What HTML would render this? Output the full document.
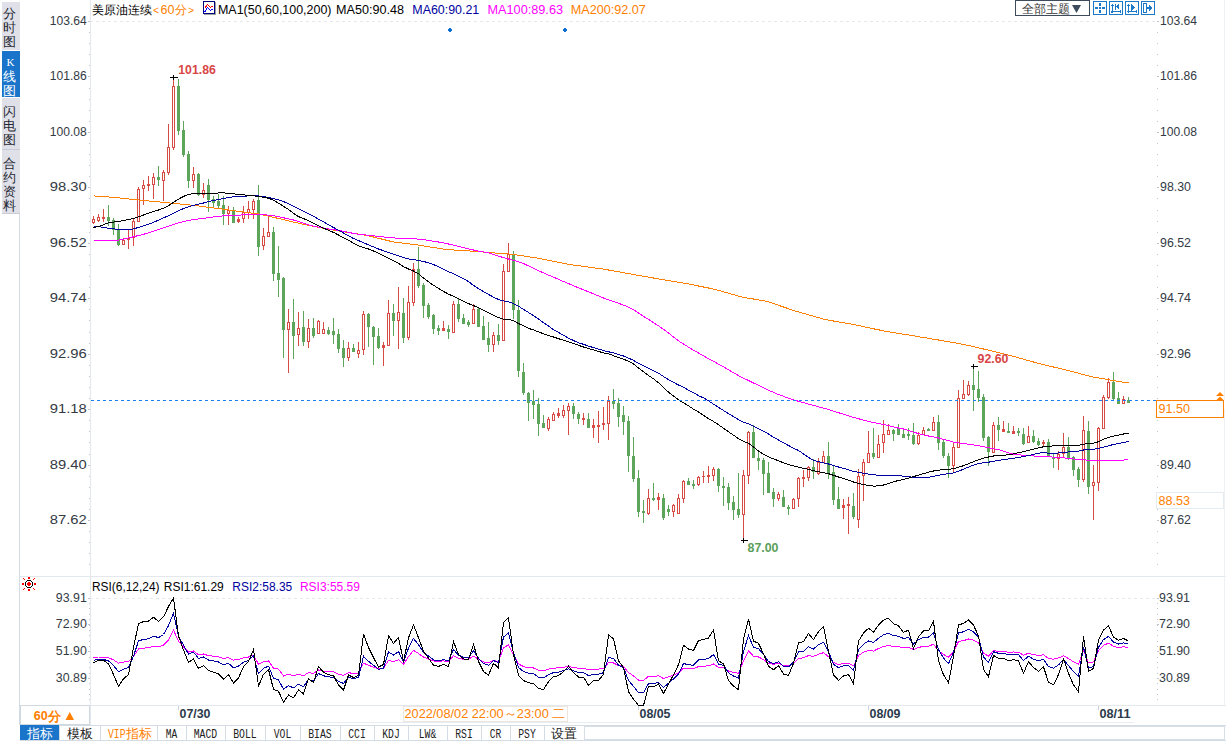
<!DOCTYPE html><html><head><meta charset="utf-8"><style>html,body{margin:0;padding:0;background:#fff;width:1226px;height:741px;overflow:hidden}svg{display:block}text{}</style></head><body>
<svg width="1226" height="741" viewBox="0 0 1226 741">
<rect width="1226" height="741" fill="#fff"/>
<g shape-rendering="crispEdges">
<rect x="2" y="2" width="18" height="48" fill="#dfe0e8"/>
<rect x="2" y="51" width="18" height="46" fill="#1a74c9"/>
<rect x="2" y="98" width="18" height="51" fill="#dfe0e8"/>
<rect x="2" y="150" width="18" height="63" fill="#dfe0e8"/>
<rect x="2" y="149" width="18" height="1" fill="#c9ccd6"/>
<rect x="2" y="213" width="18" height="1" fill="#c9ccd6"/>
<rect x="19" y="214" width="1" height="511" fill="#d3dbe4"/>
</g>
<text x="9.5" y="18.3" fill="#1f2833" style="font-family:'Liberation Sans', sans-serif;font-size:12.8px;" text-anchor="middle">分</text><text x="9.5" y="32.1" fill="#1f2833" style="font-family:'Liberation Sans', sans-serif;font-size:12.8px;" text-anchor="middle">时</text><text x="9.5" y="45.9" fill="#1f2833" style="font-family:'Liberation Sans', sans-serif;font-size:12.8px;" text-anchor="middle">图</text>
<text x="10.5" y="65.5" fill="#fff" style="font-family:'Liberation Serif', serif;font-size:11px;" text-anchor="middle">K</text>
<text x="9.5" y="81.0" fill="#fff" style="font-family:'Liberation Sans', sans-serif;font-size:12.8px;" text-anchor="middle">线</text><text x="9.5" y="94.8" fill="#fff" style="font-family:'Liberation Sans', sans-serif;font-size:12.8px;" text-anchor="middle">图</text>
<text x="9.5" y="116.3" fill="#1f2833" style="font-family:'Liberation Sans', sans-serif;font-size:12.8px;" text-anchor="middle">闪</text><text x="9.5" y="130.1" fill="#1f2833" style="font-family:'Liberation Sans', sans-serif;font-size:12.8px;" text-anchor="middle">电</text><text x="9.5" y="143.9" fill="#1f2833" style="font-family:'Liberation Sans', sans-serif;font-size:12.8px;" text-anchor="middle">图</text>
<text x="9.5" y="168.3" fill="#1f2833" style="font-family:'Liberation Sans', sans-serif;font-size:12.8px;" text-anchor="middle">合</text><text x="9.5" y="182.1" fill="#1f2833" style="font-family:'Liberation Sans', sans-serif;font-size:12.8px;" text-anchor="middle">约</text><text x="9.5" y="195.9" fill="#1f2833" style="font-family:'Liberation Sans', sans-serif;font-size:12.8px;" text-anchor="middle">资</text><text x="9.5" y="209.7" fill="#1f2833" style="font-family:'Liberation Sans', sans-serif;font-size:12.8px;" text-anchor="middle">料</text>
<g shape-rendering="crispEdges">
<rect x="90" y="0" width="1" height="725" fill="#e2e8ee"/>
<rect x="20" y="576" width="1206" height="1" fill="#e2e8ee"/>
<rect x="20" y="705" width="1206" height="1" fill="#e2e8ee"/>
<rect x="317" y="722" width="817" height="1" fill="#e8edf2"/>
<rect x="20" y="725" width="1206" height="1" fill="#d3dbe4"/>
<rect x="20" y="740" width="1206" height="1" fill="#d3dbe4"/>
<rect x="1224" y="0" width="1" height="705" fill="#eef2f5"/>
<rect x="90" y="21" width="3" height="1" fill="#e6e9ed"/>
<rect x="96" y="21" width="3" height="1" fill="#e6e9ed"/>
<rect x="102" y="21" width="3" height="1" fill="#e6e9ed"/>
<rect x="108" y="21" width="3" height="1" fill="#e6e9ed"/>
<rect x="114" y="21" width="3" height="1" fill="#e6e9ed"/>
<rect x="120" y="21" width="3" height="1" fill="#e6e9ed"/>
<rect x="126" y="21" width="3" height="1" fill="#e6e9ed"/>
<rect x="132" y="21" width="3" height="1" fill="#e6e9ed"/>
<rect x="138" y="21" width="3" height="1" fill="#e6e9ed"/>
<rect x="144" y="21" width="3" height="1" fill="#e6e9ed"/>
<rect x="150" y="21" width="3" height="1" fill="#e6e9ed"/>
<rect x="156" y="21" width="3" height="1" fill="#e6e9ed"/>
<rect x="162" y="21" width="3" height="1" fill="#e6e9ed"/>
<rect x="168" y="21" width="3" height="1" fill="#e6e9ed"/>
<rect x="174" y="21" width="3" height="1" fill="#e6e9ed"/>
<rect x="180" y="21" width="3" height="1" fill="#e6e9ed"/>
<rect x="186" y="21" width="3" height="1" fill="#e6e9ed"/>
<rect x="192" y="21" width="3" height="1" fill="#e6e9ed"/>
<rect x="198" y="21" width="3" height="1" fill="#e6e9ed"/>
<rect x="204" y="21" width="3" height="1" fill="#e6e9ed"/>
<rect x="210" y="21" width="3" height="1" fill="#e6e9ed"/>
<rect x="216" y="21" width="3" height="1" fill="#e6e9ed"/>
<rect x="222" y="21" width="3" height="1" fill="#e6e9ed"/>
<rect x="228" y="21" width="3" height="1" fill="#e6e9ed"/>
<rect x="234" y="21" width="3" height="1" fill="#e6e9ed"/>
<rect x="240" y="21" width="3" height="1" fill="#e6e9ed"/>
<rect x="246" y="21" width="3" height="1" fill="#e6e9ed"/>
<rect x="252" y="21" width="3" height="1" fill="#e6e9ed"/>
<rect x="258" y="21" width="3" height="1" fill="#e6e9ed"/>
<rect x="264" y="21" width="3" height="1" fill="#e6e9ed"/>
<rect x="270" y="21" width="3" height="1" fill="#e6e9ed"/>
<rect x="276" y="21" width="3" height="1" fill="#e6e9ed"/>
<rect x="282" y="21" width="3" height="1" fill="#e6e9ed"/>
<rect x="288" y="21" width="3" height="1" fill="#e6e9ed"/>
<rect x="294" y="21" width="3" height="1" fill="#e6e9ed"/>
<rect x="300" y="21" width="3" height="1" fill="#e6e9ed"/>
<rect x="306" y="21" width="3" height="1" fill="#e6e9ed"/>
<rect x="312" y="21" width="3" height="1" fill="#e6e9ed"/>
<rect x="318" y="21" width="3" height="1" fill="#e6e9ed"/>
<rect x="324" y="21" width="3" height="1" fill="#e6e9ed"/>
<rect x="330" y="21" width="3" height="1" fill="#e6e9ed"/>
<rect x="336" y="21" width="3" height="1" fill="#e6e9ed"/>
<rect x="342" y="21" width="3" height="1" fill="#e6e9ed"/>
<rect x="348" y="21" width="3" height="1" fill="#e6e9ed"/>
<rect x="354" y="21" width="3" height="1" fill="#e6e9ed"/>
<rect x="360" y="21" width="3" height="1" fill="#e6e9ed"/>
<rect x="366" y="21" width="3" height="1" fill="#e6e9ed"/>
<rect x="372" y="21" width="3" height="1" fill="#e6e9ed"/>
<rect x="378" y="21" width="3" height="1" fill="#e6e9ed"/>
<rect x="384" y="21" width="3" height="1" fill="#e6e9ed"/>
<rect x="390" y="21" width="3" height="1" fill="#e6e9ed"/>
<rect x="396" y="21" width="3" height="1" fill="#e6e9ed"/>
<rect x="402" y="21" width="3" height="1" fill="#e6e9ed"/>
<rect x="408" y="21" width="3" height="1" fill="#e6e9ed"/>
<rect x="414" y="21" width="3" height="1" fill="#e6e9ed"/>
<rect x="420" y="21" width="3" height="1" fill="#e6e9ed"/>
<rect x="426" y="21" width="3" height="1" fill="#e6e9ed"/>
<rect x="432" y="21" width="3" height="1" fill="#e6e9ed"/>
<rect x="438" y="21" width="3" height="1" fill="#e6e9ed"/>
<rect x="444" y="21" width="3" height="1" fill="#e6e9ed"/>
<rect x="450" y="21" width="3" height="1" fill="#e6e9ed"/>
<rect x="456" y="21" width="3" height="1" fill="#e6e9ed"/>
<rect x="462" y="21" width="3" height="1" fill="#e6e9ed"/>
<rect x="468" y="21" width="3" height="1" fill="#e6e9ed"/>
<rect x="474" y="21" width="3" height="1" fill="#e6e9ed"/>
<rect x="480" y="21" width="3" height="1" fill="#e6e9ed"/>
<rect x="486" y="21" width="3" height="1" fill="#e6e9ed"/>
<rect x="492" y="21" width="3" height="1" fill="#e6e9ed"/>
<rect x="498" y="21" width="3" height="1" fill="#e6e9ed"/>
<rect x="504" y="21" width="3" height="1" fill="#e6e9ed"/>
<rect x="510" y="21" width="3" height="1" fill="#e6e9ed"/>
<rect x="516" y="21" width="3" height="1" fill="#e6e9ed"/>
<rect x="522" y="21" width="3" height="1" fill="#e6e9ed"/>
<rect x="528" y="21" width="3" height="1" fill="#e6e9ed"/>
<rect x="534" y="21" width="3" height="1" fill="#e6e9ed"/>
<rect x="540" y="21" width="3" height="1" fill="#e6e9ed"/>
<rect x="546" y="21" width="3" height="1" fill="#e6e9ed"/>
<rect x="552" y="21" width="3" height="1" fill="#e6e9ed"/>
<rect x="558" y="21" width="3" height="1" fill="#e6e9ed"/>
<rect x="564" y="21" width="3" height="1" fill="#e6e9ed"/>
<rect x="570" y="21" width="3" height="1" fill="#e6e9ed"/>
<rect x="576" y="21" width="3" height="1" fill="#e6e9ed"/>
<rect x="582" y="21" width="3" height="1" fill="#e6e9ed"/>
<rect x="588" y="21" width="3" height="1" fill="#e6e9ed"/>
<rect x="594" y="21" width="3" height="1" fill="#e6e9ed"/>
<rect x="600" y="21" width="3" height="1" fill="#e6e9ed"/>
<rect x="606" y="21" width="3" height="1" fill="#e6e9ed"/>
<rect x="612" y="21" width="3" height="1" fill="#e6e9ed"/>
<rect x="618" y="21" width="3" height="1" fill="#e6e9ed"/>
<rect x="624" y="21" width="3" height="1" fill="#e6e9ed"/>
<rect x="630" y="21" width="3" height="1" fill="#e6e9ed"/>
<rect x="636" y="21" width="3" height="1" fill="#e6e9ed"/>
<rect x="642" y="21" width="3" height="1" fill="#e6e9ed"/>
<rect x="648" y="21" width="3" height="1" fill="#e6e9ed"/>
<rect x="654" y="21" width="3" height="1" fill="#e6e9ed"/>
<rect x="660" y="21" width="3" height="1" fill="#e6e9ed"/>
<rect x="666" y="21" width="3" height="1" fill="#e6e9ed"/>
<rect x="672" y="21" width="3" height="1" fill="#e6e9ed"/>
<rect x="678" y="21" width="3" height="1" fill="#e6e9ed"/>
<rect x="684" y="21" width="3" height="1" fill="#e6e9ed"/>
<rect x="690" y="21" width="3" height="1" fill="#e6e9ed"/>
<rect x="696" y="21" width="3" height="1" fill="#e6e9ed"/>
<rect x="702" y="21" width="3" height="1" fill="#e6e9ed"/>
<rect x="708" y="21" width="3" height="1" fill="#e6e9ed"/>
<rect x="714" y="21" width="3" height="1" fill="#e6e9ed"/>
<rect x="720" y="21" width="3" height="1" fill="#e6e9ed"/>
<rect x="726" y="21" width="3" height="1" fill="#e6e9ed"/>
<rect x="732" y="21" width="3" height="1" fill="#e6e9ed"/>
<rect x="738" y="21" width="3" height="1" fill="#e6e9ed"/>
<rect x="744" y="21" width="3" height="1" fill="#e6e9ed"/>
<rect x="750" y="21" width="3" height="1" fill="#e6e9ed"/>
<rect x="756" y="21" width="3" height="1" fill="#e6e9ed"/>
<rect x="762" y="21" width="3" height="1" fill="#e6e9ed"/>
<rect x="768" y="21" width="3" height="1" fill="#e6e9ed"/>
<rect x="774" y="21" width="3" height="1" fill="#e6e9ed"/>
<rect x="780" y="21" width="3" height="1" fill="#e6e9ed"/>
<rect x="786" y="21" width="3" height="1" fill="#e6e9ed"/>
<rect x="792" y="21" width="3" height="1" fill="#e6e9ed"/>
<rect x="798" y="21" width="3" height="1" fill="#e6e9ed"/>
<rect x="804" y="21" width="3" height="1" fill="#e6e9ed"/>
<rect x="810" y="21" width="3" height="1" fill="#e6e9ed"/>
<rect x="816" y="21" width="3" height="1" fill="#e6e9ed"/>
<rect x="822" y="21" width="3" height="1" fill="#e6e9ed"/>
<rect x="828" y="21" width="3" height="1" fill="#e6e9ed"/>
<rect x="834" y="21" width="3" height="1" fill="#e6e9ed"/>
<rect x="840" y="21" width="3" height="1" fill="#e6e9ed"/>
<rect x="846" y="21" width="3" height="1" fill="#e6e9ed"/>
<rect x="852" y="21" width="3" height="1" fill="#e6e9ed"/>
<rect x="858" y="21" width="3" height="1" fill="#e6e9ed"/>
<rect x="864" y="21" width="3" height="1" fill="#e6e9ed"/>
<rect x="870" y="21" width="3" height="1" fill="#e6e9ed"/>
<rect x="876" y="21" width="3" height="1" fill="#e6e9ed"/>
<rect x="882" y="21" width="3" height="1" fill="#e6e9ed"/>
<rect x="888" y="21" width="3" height="1" fill="#e6e9ed"/>
<rect x="894" y="21" width="3" height="1" fill="#e6e9ed"/>
<rect x="900" y="21" width="3" height="1" fill="#e6e9ed"/>
<rect x="906" y="21" width="3" height="1" fill="#e6e9ed"/>
<rect x="912" y="21" width="3" height="1" fill="#e6e9ed"/>
<rect x="918" y="21" width="3" height="1" fill="#e6e9ed"/>
<rect x="924" y="21" width="3" height="1" fill="#e6e9ed"/>
<rect x="930" y="21" width="3" height="1" fill="#e6e9ed"/>
<rect x="936" y="21" width="3" height="1" fill="#e6e9ed"/>
<rect x="942" y="21" width="3" height="1" fill="#e6e9ed"/>
<rect x="948" y="21" width="3" height="1" fill="#e6e9ed"/>
<rect x="954" y="21" width="3" height="1" fill="#e6e9ed"/>
<rect x="960" y="21" width="3" height="1" fill="#e6e9ed"/>
<rect x="966" y="21" width="3" height="1" fill="#e6e9ed"/>
<rect x="972" y="21" width="3" height="1" fill="#e6e9ed"/>
<rect x="978" y="21" width="3" height="1" fill="#e6e9ed"/>
<rect x="984" y="21" width="3" height="1" fill="#e6e9ed"/>
<rect x="990" y="21" width="3" height="1" fill="#e6e9ed"/>
<rect x="996" y="21" width="3" height="1" fill="#e6e9ed"/>
<rect x="1002" y="21" width="3" height="1" fill="#e6e9ed"/>
<rect x="1008" y="21" width="3" height="1" fill="#e6e9ed"/>
<rect x="1014" y="21" width="3" height="1" fill="#e6e9ed"/>
<rect x="1020" y="21" width="3" height="1" fill="#e6e9ed"/>
<rect x="1026" y="21" width="3" height="1" fill="#e6e9ed"/>
<rect x="1032" y="21" width="3" height="1" fill="#e6e9ed"/>
<rect x="1038" y="21" width="3" height="1" fill="#e6e9ed"/>
<rect x="1044" y="21" width="3" height="1" fill="#e6e9ed"/>
<rect x="1050" y="21" width="3" height="1" fill="#e6e9ed"/>
<rect x="1056" y="21" width="3" height="1" fill="#e6e9ed"/>
<rect x="1062" y="21" width="3" height="1" fill="#e6e9ed"/>
<rect x="1068" y="21" width="3" height="1" fill="#e6e9ed"/>
<rect x="1074" y="21" width="3" height="1" fill="#e6e9ed"/>
<rect x="1080" y="21" width="3" height="1" fill="#e6e9ed"/>
<rect x="1086" y="21" width="3" height="1" fill="#e6e9ed"/>
<rect x="1092" y="21" width="3" height="1" fill="#e6e9ed"/>
<rect x="1098" y="21" width="3" height="1" fill="#e6e9ed"/>
<rect x="1104" y="21" width="3" height="1" fill="#e6e9ed"/>
<rect x="1110" y="21" width="3" height="1" fill="#e6e9ed"/>
<rect x="1116" y="21" width="3" height="1" fill="#e6e9ed"/>
<rect x="1122" y="21" width="3" height="1" fill="#e6e9ed"/>
<rect x="1128" y="21" width="3" height="1" fill="#e6e9ed"/>
<rect x="1134" y="21" width="3" height="1" fill="#e6e9ed"/>
<rect x="1140" y="21" width="3" height="1" fill="#e6e9ed"/>
<rect x="1146" y="21" width="3" height="1" fill="#e6e9ed"/>
<rect x="1152" y="21" width="3" height="1" fill="#e6e9ed"/>
<rect x="90" y="598" width="3" height="1" fill="#e6e9ed"/>
<rect x="96" y="598" width="3" height="1" fill="#e6e9ed"/>
<rect x="102" y="598" width="3" height="1" fill="#e6e9ed"/>
<rect x="108" y="598" width="3" height="1" fill="#e6e9ed"/>
<rect x="114" y="598" width="3" height="1" fill="#e6e9ed"/>
<rect x="120" y="598" width="3" height="1" fill="#e6e9ed"/>
<rect x="126" y="598" width="3" height="1" fill="#e6e9ed"/>
<rect x="132" y="598" width="3" height="1" fill="#e6e9ed"/>
<rect x="138" y="598" width="3" height="1" fill="#e6e9ed"/>
<rect x="144" y="598" width="3" height="1" fill="#e6e9ed"/>
<rect x="150" y="598" width="3" height="1" fill="#e6e9ed"/>
<rect x="156" y="598" width="3" height="1" fill="#e6e9ed"/>
<rect x="162" y="598" width="3" height="1" fill="#e6e9ed"/>
<rect x="168" y="598" width="3" height="1" fill="#e6e9ed"/>
<rect x="174" y="598" width="3" height="1" fill="#e6e9ed"/>
<rect x="180" y="598" width="3" height="1" fill="#e6e9ed"/>
<rect x="186" y="598" width="3" height="1" fill="#e6e9ed"/>
<rect x="192" y="598" width="3" height="1" fill="#e6e9ed"/>
<rect x="198" y="598" width="3" height="1" fill="#e6e9ed"/>
<rect x="204" y="598" width="3" height="1" fill="#e6e9ed"/>
<rect x="210" y="598" width="3" height="1" fill="#e6e9ed"/>
<rect x="216" y="598" width="3" height="1" fill="#e6e9ed"/>
<rect x="222" y="598" width="3" height="1" fill="#e6e9ed"/>
<rect x="228" y="598" width="3" height="1" fill="#e6e9ed"/>
<rect x="234" y="598" width="3" height="1" fill="#e6e9ed"/>
<rect x="240" y="598" width="3" height="1" fill="#e6e9ed"/>
<rect x="246" y="598" width="3" height="1" fill="#e6e9ed"/>
<rect x="252" y="598" width="3" height="1" fill="#e6e9ed"/>
<rect x="258" y="598" width="3" height="1" fill="#e6e9ed"/>
<rect x="264" y="598" width="3" height="1" fill="#e6e9ed"/>
<rect x="270" y="598" width="3" height="1" fill="#e6e9ed"/>
<rect x="276" y="598" width="3" height="1" fill="#e6e9ed"/>
<rect x="282" y="598" width="3" height="1" fill="#e6e9ed"/>
<rect x="288" y="598" width="3" height="1" fill="#e6e9ed"/>
<rect x="294" y="598" width="3" height="1" fill="#e6e9ed"/>
<rect x="300" y="598" width="3" height="1" fill="#e6e9ed"/>
<rect x="306" y="598" width="3" height="1" fill="#e6e9ed"/>
<rect x="312" y="598" width="3" height="1" fill="#e6e9ed"/>
<rect x="318" y="598" width="3" height="1" fill="#e6e9ed"/>
<rect x="324" y="598" width="3" height="1" fill="#e6e9ed"/>
<rect x="330" y="598" width="3" height="1" fill="#e6e9ed"/>
<rect x="336" y="598" width="3" height="1" fill="#e6e9ed"/>
<rect x="342" y="598" width="3" height="1" fill="#e6e9ed"/>
<rect x="348" y="598" width="3" height="1" fill="#e6e9ed"/>
<rect x="354" y="598" width="3" height="1" fill="#e6e9ed"/>
<rect x="360" y="598" width="3" height="1" fill="#e6e9ed"/>
<rect x="366" y="598" width="3" height="1" fill="#e6e9ed"/>
<rect x="372" y="598" width="3" height="1" fill="#e6e9ed"/>
<rect x="378" y="598" width="3" height="1" fill="#e6e9ed"/>
<rect x="384" y="598" width="3" height="1" fill="#e6e9ed"/>
<rect x="390" y="598" width="3" height="1" fill="#e6e9ed"/>
<rect x="396" y="598" width="3" height="1" fill="#e6e9ed"/>
<rect x="402" y="598" width="3" height="1" fill="#e6e9ed"/>
<rect x="408" y="598" width="3" height="1" fill="#e6e9ed"/>
<rect x="414" y="598" width="3" height="1" fill="#e6e9ed"/>
<rect x="420" y="598" width="3" height="1" fill="#e6e9ed"/>
<rect x="426" y="598" width="3" height="1" fill="#e6e9ed"/>
<rect x="432" y="598" width="3" height="1" fill="#e6e9ed"/>
<rect x="438" y="598" width="3" height="1" fill="#e6e9ed"/>
<rect x="444" y="598" width="3" height="1" fill="#e6e9ed"/>
<rect x="450" y="598" width="3" height="1" fill="#e6e9ed"/>
<rect x="456" y="598" width="3" height="1" fill="#e6e9ed"/>
<rect x="462" y="598" width="3" height="1" fill="#e6e9ed"/>
<rect x="468" y="598" width="3" height="1" fill="#e6e9ed"/>
<rect x="474" y="598" width="3" height="1" fill="#e6e9ed"/>
<rect x="480" y="598" width="3" height="1" fill="#e6e9ed"/>
<rect x="486" y="598" width="3" height="1" fill="#e6e9ed"/>
<rect x="492" y="598" width="3" height="1" fill="#e6e9ed"/>
<rect x="498" y="598" width="3" height="1" fill="#e6e9ed"/>
<rect x="504" y="598" width="3" height="1" fill="#e6e9ed"/>
<rect x="510" y="598" width="3" height="1" fill="#e6e9ed"/>
<rect x="516" y="598" width="3" height="1" fill="#e6e9ed"/>
<rect x="522" y="598" width="3" height="1" fill="#e6e9ed"/>
<rect x="528" y="598" width="3" height="1" fill="#e6e9ed"/>
<rect x="534" y="598" width="3" height="1" fill="#e6e9ed"/>
<rect x="540" y="598" width="3" height="1" fill="#e6e9ed"/>
<rect x="546" y="598" width="3" height="1" fill="#e6e9ed"/>
<rect x="552" y="598" width="3" height="1" fill="#e6e9ed"/>
<rect x="558" y="598" width="3" height="1" fill="#e6e9ed"/>
<rect x="564" y="598" width="3" height="1" fill="#e6e9ed"/>
<rect x="570" y="598" width="3" height="1" fill="#e6e9ed"/>
<rect x="576" y="598" width="3" height="1" fill="#e6e9ed"/>
<rect x="582" y="598" width="3" height="1" fill="#e6e9ed"/>
<rect x="588" y="598" width="3" height="1" fill="#e6e9ed"/>
<rect x="594" y="598" width="3" height="1" fill="#e6e9ed"/>
<rect x="600" y="598" width="3" height="1" fill="#e6e9ed"/>
<rect x="606" y="598" width="3" height="1" fill="#e6e9ed"/>
<rect x="612" y="598" width="3" height="1" fill="#e6e9ed"/>
<rect x="618" y="598" width="3" height="1" fill="#e6e9ed"/>
<rect x="624" y="598" width="3" height="1" fill="#e6e9ed"/>
<rect x="630" y="598" width="3" height="1" fill="#e6e9ed"/>
<rect x="636" y="598" width="3" height="1" fill="#e6e9ed"/>
<rect x="642" y="598" width="3" height="1" fill="#e6e9ed"/>
<rect x="648" y="598" width="3" height="1" fill="#e6e9ed"/>
<rect x="654" y="598" width="3" height="1" fill="#e6e9ed"/>
<rect x="660" y="598" width="3" height="1" fill="#e6e9ed"/>
<rect x="666" y="598" width="3" height="1" fill="#e6e9ed"/>
<rect x="672" y="598" width="3" height="1" fill="#e6e9ed"/>
<rect x="678" y="598" width="3" height="1" fill="#e6e9ed"/>
<rect x="684" y="598" width="3" height="1" fill="#e6e9ed"/>
<rect x="690" y="598" width="3" height="1" fill="#e6e9ed"/>
<rect x="696" y="598" width="3" height="1" fill="#e6e9ed"/>
<rect x="702" y="598" width="3" height="1" fill="#e6e9ed"/>
<rect x="708" y="598" width="3" height="1" fill="#e6e9ed"/>
<rect x="714" y="598" width="3" height="1" fill="#e6e9ed"/>
<rect x="720" y="598" width="3" height="1" fill="#e6e9ed"/>
<rect x="726" y="598" width="3" height="1" fill="#e6e9ed"/>
<rect x="732" y="598" width="3" height="1" fill="#e6e9ed"/>
<rect x="738" y="598" width="3" height="1" fill="#e6e9ed"/>
<rect x="744" y="598" width="3" height="1" fill="#e6e9ed"/>
<rect x="750" y="598" width="3" height="1" fill="#e6e9ed"/>
<rect x="756" y="598" width="3" height="1" fill="#e6e9ed"/>
<rect x="762" y="598" width="3" height="1" fill="#e6e9ed"/>
<rect x="768" y="598" width="3" height="1" fill="#e6e9ed"/>
<rect x="774" y="598" width="3" height="1" fill="#e6e9ed"/>
<rect x="780" y="598" width="3" height="1" fill="#e6e9ed"/>
<rect x="786" y="598" width="3" height="1" fill="#e6e9ed"/>
<rect x="792" y="598" width="3" height="1" fill="#e6e9ed"/>
<rect x="798" y="598" width="3" height="1" fill="#e6e9ed"/>
<rect x="804" y="598" width="3" height="1" fill="#e6e9ed"/>
<rect x="810" y="598" width="3" height="1" fill="#e6e9ed"/>
<rect x="816" y="598" width="3" height="1" fill="#e6e9ed"/>
<rect x="822" y="598" width="3" height="1" fill="#e6e9ed"/>
<rect x="828" y="598" width="3" height="1" fill="#e6e9ed"/>
<rect x="834" y="598" width="3" height="1" fill="#e6e9ed"/>
<rect x="840" y="598" width="3" height="1" fill="#e6e9ed"/>
<rect x="846" y="598" width="3" height="1" fill="#e6e9ed"/>
<rect x="852" y="598" width="3" height="1" fill="#e6e9ed"/>
<rect x="858" y="598" width="3" height="1" fill="#e6e9ed"/>
<rect x="864" y="598" width="3" height="1" fill="#e6e9ed"/>
<rect x="870" y="598" width="3" height="1" fill="#e6e9ed"/>
<rect x="876" y="598" width="3" height="1" fill="#e6e9ed"/>
<rect x="882" y="598" width="3" height="1" fill="#e6e9ed"/>
<rect x="888" y="598" width="3" height="1" fill="#e6e9ed"/>
<rect x="894" y="598" width="3" height="1" fill="#e6e9ed"/>
<rect x="900" y="598" width="3" height="1" fill="#e6e9ed"/>
<rect x="906" y="598" width="3" height="1" fill="#e6e9ed"/>
<rect x="912" y="598" width="3" height="1" fill="#e6e9ed"/>
<rect x="918" y="598" width="3" height="1" fill="#e6e9ed"/>
<rect x="924" y="598" width="3" height="1" fill="#e6e9ed"/>
<rect x="930" y="598" width="3" height="1" fill="#e6e9ed"/>
<rect x="936" y="598" width="3" height="1" fill="#e6e9ed"/>
<rect x="942" y="598" width="3" height="1" fill="#e6e9ed"/>
<rect x="948" y="598" width="3" height="1" fill="#e6e9ed"/>
<rect x="954" y="598" width="3" height="1" fill="#e6e9ed"/>
<rect x="960" y="598" width="3" height="1" fill="#e6e9ed"/>
<rect x="966" y="598" width="3" height="1" fill="#e6e9ed"/>
<rect x="972" y="598" width="3" height="1" fill="#e6e9ed"/>
<rect x="978" y="598" width="3" height="1" fill="#e6e9ed"/>
<rect x="984" y="598" width="3" height="1" fill="#e6e9ed"/>
<rect x="990" y="598" width="3" height="1" fill="#e6e9ed"/>
<rect x="996" y="598" width="3" height="1" fill="#e6e9ed"/>
<rect x="1002" y="598" width="3" height="1" fill="#e6e9ed"/>
<rect x="1008" y="598" width="3" height="1" fill="#e6e9ed"/>
<rect x="1014" y="598" width="3" height="1" fill="#e6e9ed"/>
<rect x="1020" y="598" width="3" height="1" fill="#e6e9ed"/>
<rect x="1026" y="598" width="3" height="1" fill="#e6e9ed"/>
<rect x="1032" y="598" width="3" height="1" fill="#e6e9ed"/>
<rect x="1038" y="598" width="3" height="1" fill="#e6e9ed"/>
<rect x="1044" y="598" width="3" height="1" fill="#e6e9ed"/>
<rect x="1050" y="598" width="3" height="1" fill="#e6e9ed"/>
<rect x="1056" y="598" width="3" height="1" fill="#e6e9ed"/>
<rect x="1062" y="598" width="3" height="1" fill="#e6e9ed"/>
<rect x="1068" y="598" width="3" height="1" fill="#e6e9ed"/>
<rect x="1074" y="598" width="3" height="1" fill="#e6e9ed"/>
<rect x="1080" y="598" width="3" height="1" fill="#e6e9ed"/>
<rect x="1086" y="598" width="3" height="1" fill="#e6e9ed"/>
<rect x="1092" y="598" width="3" height="1" fill="#e6e9ed"/>
<rect x="1098" y="598" width="3" height="1" fill="#e6e9ed"/>
<rect x="1104" y="598" width="3" height="1" fill="#e6e9ed"/>
<rect x="1110" y="598" width="3" height="1" fill="#e6e9ed"/>
<rect x="1116" y="598" width="3" height="1" fill="#e6e9ed"/>
<rect x="1122" y="598" width="3" height="1" fill="#e6e9ed"/>
<rect x="1128" y="598" width="3" height="1" fill="#e6e9ed"/>
<rect x="1134" y="598" width="3" height="1" fill="#e6e9ed"/>
<rect x="1140" y="598" width="3" height="1" fill="#e6e9ed"/>
<rect x="1146" y="598" width="3" height="1" fill="#e6e9ed"/>
<rect x="1152" y="598" width="3" height="1" fill="#e6e9ed"/>
</g>
<g shape-rendering="crispEdges" fill="#bcc6d0">
<rect x="88" y="21" width="2" height="1"/>
<rect x="1157" y="21" width="2" height="1"/>
<rect x="88" y="76" width="2" height="1"/>
<rect x="1157" y="76" width="2" height="1"/>
<rect x="88" y="132" width="2" height="1"/>
<rect x="1157" y="132" width="2" height="1"/>
<rect x="88" y="187" width="2" height="1"/>
<rect x="1157" y="187" width="2" height="1"/>
<rect x="88" y="243" width="2" height="1"/>
<rect x="1157" y="243" width="2" height="1"/>
<rect x="88" y="298" width="2" height="1"/>
<rect x="1157" y="298" width="2" height="1"/>
<rect x="88" y="354" width="2" height="1"/>
<rect x="1157" y="354" width="2" height="1"/>
<rect x="88" y="409" width="2" height="1"/>
<rect x="1157" y="409" width="2" height="1"/>
<rect x="88" y="465" width="2" height="1"/>
<rect x="1157" y="465" width="2" height="1"/>
<rect x="88" y="520" width="2" height="1"/>
<rect x="1157" y="520" width="2" height="1"/>
<rect x="89" y="32" width="1" height="1"/>
<rect x="1157" y="32" width="1" height="1"/>
<rect x="89" y="43" width="1" height="1"/>
<rect x="1157" y="43" width="1" height="1"/>
<rect x="89" y="54" width="1" height="1"/>
<rect x="1157" y="54" width="1" height="1"/>
<rect x="89" y="65" width="1" height="1"/>
<rect x="1157" y="65" width="1" height="1"/>
<rect x="89" y="88" width="1" height="1"/>
<rect x="1157" y="88" width="1" height="1"/>
<rect x="89" y="99" width="1" height="1"/>
<rect x="1157" y="99" width="1" height="1"/>
<rect x="89" y="110" width="1" height="1"/>
<rect x="1157" y="110" width="1" height="1"/>
<rect x="89" y="121" width="1" height="1"/>
<rect x="1157" y="121" width="1" height="1"/>
<rect x="89" y="143" width="1" height="1"/>
<rect x="1157" y="143" width="1" height="1"/>
<rect x="89" y="154" width="1" height="1"/>
<rect x="1157" y="154" width="1" height="1"/>
<rect x="89" y="165" width="1" height="1"/>
<rect x="1157" y="165" width="1" height="1"/>
<rect x="89" y="176" width="1" height="1"/>
<rect x="1157" y="176" width="1" height="1"/>
<rect x="89" y="198" width="1" height="1"/>
<rect x="1157" y="198" width="1" height="1"/>
<rect x="89" y="210" width="1" height="1"/>
<rect x="1157" y="210" width="1" height="1"/>
<rect x="89" y="221" width="1" height="1"/>
<rect x="1157" y="221" width="1" height="1"/>
<rect x="89" y="232" width="1" height="1"/>
<rect x="1157" y="232" width="1" height="1"/>
<rect x="89" y="254" width="1" height="1"/>
<rect x="1157" y="254" width="1" height="1"/>
<rect x="89" y="265" width="1" height="1"/>
<rect x="1157" y="265" width="1" height="1"/>
<rect x="89" y="276" width="1" height="1"/>
<rect x="1157" y="276" width="1" height="1"/>
<rect x="89" y="287" width="1" height="1"/>
<rect x="1157" y="287" width="1" height="1"/>
<rect x="89" y="309" width="1" height="1"/>
<rect x="1157" y="309" width="1" height="1"/>
<rect x="89" y="320" width="1" height="1"/>
<rect x="1157" y="320" width="1" height="1"/>
<rect x="89" y="332" width="1" height="1"/>
<rect x="1157" y="332" width="1" height="1"/>
<rect x="89" y="343" width="1" height="1"/>
<rect x="1157" y="343" width="1" height="1"/>
<rect x="89" y="365" width="1" height="1"/>
<rect x="1157" y="365" width="1" height="1"/>
<rect x="89" y="376" width="1" height="1"/>
<rect x="1157" y="376" width="1" height="1"/>
<rect x="89" y="387" width="1" height="1"/>
<rect x="1157" y="387" width="1" height="1"/>
<rect x="89" y="398" width="1" height="1"/>
<rect x="1157" y="398" width="1" height="1"/>
<rect x="89" y="420" width="1" height="1"/>
<rect x="1157" y="420" width="1" height="1"/>
<rect x="89" y="431" width="1" height="1"/>
<rect x="1157" y="431" width="1" height="1"/>
<rect x="89" y="442" width="1" height="1"/>
<rect x="1157" y="442" width="1" height="1"/>
<rect x="89" y="454" width="1" height="1"/>
<rect x="1157" y="454" width="1" height="1"/>
<rect x="89" y="476" width="1" height="1"/>
<rect x="1157" y="476" width="1" height="1"/>
<rect x="89" y="487" width="1" height="1"/>
<rect x="1157" y="487" width="1" height="1"/>
<rect x="89" y="498" width="1" height="1"/>
<rect x="1157" y="498" width="1" height="1"/>
<rect x="89" y="509" width="1" height="1"/>
<rect x="1157" y="509" width="1" height="1"/>
<rect x="89" y="531" width="1" height="1"/>
<rect x="1157" y="531" width="1" height="1"/>
<rect x="89" y="542" width="1" height="1"/>
<rect x="1157" y="542" width="1" height="1"/>
<rect x="89" y="553" width="1" height="1"/>
<rect x="1157" y="553" width="1" height="1"/>
<rect x="89" y="564" width="1" height="1"/>
<rect x="1157" y="564" width="1" height="1"/>
</g>
<text x="86.8" y="25" fill="#333a44" style="font-family:'Liberation Sans', sans-serif;font-size:13px;" text-anchor="end" textLength="37" lengthAdjust="spacingAndGlyphs">103.64</text>
<text x="1160" y="25" fill="#333a44" style="font-family:'Liberation Sans', sans-serif;font-size:13px;" textLength="37" lengthAdjust="spacingAndGlyphs">103.64</text>
<text x="86.8" y="80" fill="#333a44" style="font-family:'Liberation Sans', sans-serif;font-size:13px;" text-anchor="end" textLength="37" lengthAdjust="spacingAndGlyphs">101.86</text>
<text x="1160" y="80" fill="#333a44" style="font-family:'Liberation Sans', sans-serif;font-size:13px;" textLength="37" lengthAdjust="spacingAndGlyphs">101.86</text>
<text x="86.8" y="136" fill="#333a44" style="font-family:'Liberation Sans', sans-serif;font-size:13px;" text-anchor="end" textLength="37" lengthAdjust="spacingAndGlyphs">100.08</text>
<text x="1160" y="136" fill="#333a44" style="font-family:'Liberation Sans', sans-serif;font-size:13px;" textLength="37" lengthAdjust="spacingAndGlyphs">100.08</text>
<text x="86.8" y="191" fill="#333a44" style="font-family:'Liberation Sans', sans-serif;font-size:13px;" text-anchor="end" textLength="37" lengthAdjust="spacingAndGlyphs">98.30</text>
<text x="1160" y="191" fill="#333a44" style="font-family:'Liberation Sans', sans-serif;font-size:13px;" textLength="31" lengthAdjust="spacingAndGlyphs">98.30</text>
<text x="86.8" y="247" fill="#333a44" style="font-family:'Liberation Sans', sans-serif;font-size:13px;" text-anchor="end" textLength="37" lengthAdjust="spacingAndGlyphs">96.52</text>
<text x="1160" y="247" fill="#333a44" style="font-family:'Liberation Sans', sans-serif;font-size:13px;" textLength="31" lengthAdjust="spacingAndGlyphs">96.52</text>
<text x="86.8" y="302" fill="#333a44" style="font-family:'Liberation Sans', sans-serif;font-size:13px;" text-anchor="end" textLength="37" lengthAdjust="spacingAndGlyphs">94.74</text>
<text x="1160" y="302" fill="#333a44" style="font-family:'Liberation Sans', sans-serif;font-size:13px;" textLength="31" lengthAdjust="spacingAndGlyphs">94.74</text>
<text x="86.8" y="358" fill="#333a44" style="font-family:'Liberation Sans', sans-serif;font-size:13px;" text-anchor="end" textLength="37" lengthAdjust="spacingAndGlyphs">92.96</text>
<text x="1160" y="358" fill="#333a44" style="font-family:'Liberation Sans', sans-serif;font-size:13px;" textLength="31" lengthAdjust="spacingAndGlyphs">92.96</text>
<text x="86.8" y="413" fill="#333a44" style="font-family:'Liberation Sans', sans-serif;font-size:13px;" text-anchor="end" textLength="37" lengthAdjust="spacingAndGlyphs">91.18</text>
<text x="86.8" y="469" fill="#333a44" style="font-family:'Liberation Sans', sans-serif;font-size:13px;" text-anchor="end" textLength="37" lengthAdjust="spacingAndGlyphs">89.40</text>
<text x="1160" y="469" fill="#333a44" style="font-family:'Liberation Sans', sans-serif;font-size:13px;" textLength="31" lengthAdjust="spacingAndGlyphs">89.40</text>
<text x="86.8" y="524" fill="#333a44" style="font-family:'Liberation Sans', sans-serif;font-size:13px;" text-anchor="end" textLength="37" lengthAdjust="spacingAndGlyphs">87.62</text>
<text x="1160" y="524" fill="#333a44" style="font-family:'Liberation Sans', sans-serif;font-size:13px;" textLength="31" lengthAdjust="spacingAndGlyphs">87.62</text>
<g shape-rendering="crispEdges" fill="#bcc6d0">
<rect x="88" y="598" width="2" height="1"/>
<rect x="1157" y="598" width="2" height="1"/>
<rect x="88" y="624" width="2" height="1"/>
<rect x="1157" y="624" width="2" height="1"/>
<rect x="88" y="651" width="2" height="1"/>
<rect x="1157" y="651" width="2" height="1"/>
<rect x="88" y="678" width="2" height="1"/>
<rect x="1157" y="678" width="2" height="1"/>
<rect x="89" y="598" width="1" height="1"/>
<rect x="1157" y="598" width="1" height="1"/>
<rect x="89" y="603" width="1" height="1"/>
<rect x="1157" y="603" width="1" height="1"/>
<rect x="89" y="608" width="1" height="1"/>
<rect x="1157" y="608" width="1" height="1"/>
<rect x="89" y="614" width="1" height="1"/>
<rect x="1157" y="614" width="1" height="1"/>
<rect x="89" y="619" width="1" height="1"/>
<rect x="1157" y="619" width="1" height="1"/>
<rect x="89" y="625" width="1" height="1"/>
<rect x="1157" y="625" width="1" height="1"/>
<rect x="89" y="630" width="1" height="1"/>
<rect x="1157" y="630" width="1" height="1"/>
<rect x="89" y="635" width="1" height="1"/>
<rect x="1157" y="635" width="1" height="1"/>
<rect x="89" y="641" width="1" height="1"/>
<rect x="1157" y="641" width="1" height="1"/>
<rect x="89" y="646" width="1" height="1"/>
<rect x="1157" y="646" width="1" height="1"/>
<rect x="89" y="651" width="1" height="1"/>
<rect x="1157" y="651" width="1" height="1"/>
<rect x="89" y="657" width="1" height="1"/>
<rect x="1157" y="657" width="1" height="1"/>
<rect x="89" y="662" width="1" height="1"/>
<rect x="1157" y="662" width="1" height="1"/>
<rect x="89" y="667" width="1" height="1"/>
<rect x="1157" y="667" width="1" height="1"/>
<rect x="89" y="673" width="1" height="1"/>
<rect x="1157" y="673" width="1" height="1"/>
<rect x="89" y="678" width="1" height="1"/>
<rect x="1157" y="678" width="1" height="1"/>
<rect x="89" y="683" width="1" height="1"/>
<rect x="1157" y="683" width="1" height="1"/>
<rect x="89" y="689" width="1" height="1"/>
<rect x="1157" y="689" width="1" height="1"/>
<rect x="89" y="694" width="1" height="1"/>
<rect x="1157" y="694" width="1" height="1"/>
<rect x="89" y="699" width="1" height="1"/>
<rect x="1157" y="699" width="1" height="1"/>
</g>
<text x="86.8" y="602" fill="#333a44" style="font-family:'Liberation Sans', sans-serif;font-size:13px;" text-anchor="end" textLength="31" lengthAdjust="spacingAndGlyphs">93.91</text>
<text x="1159" y="602" fill="#333a44" style="font-family:'Liberation Sans', sans-serif;font-size:13px;" textLength="31" lengthAdjust="spacingAndGlyphs">93.91</text>
<text x="86.8" y="628" fill="#333a44" style="font-family:'Liberation Sans', sans-serif;font-size:13px;" text-anchor="end" textLength="31" lengthAdjust="spacingAndGlyphs">72.90</text>
<text x="1159" y="628" fill="#333a44" style="font-family:'Liberation Sans', sans-serif;font-size:13px;" textLength="31" lengthAdjust="spacingAndGlyphs">72.90</text>
<text x="86.8" y="655" fill="#333a44" style="font-family:'Liberation Sans', sans-serif;font-size:13px;" text-anchor="end" textLength="31" lengthAdjust="spacingAndGlyphs">51.90</text>
<text x="1159" y="655" fill="#333a44" style="font-family:'Liberation Sans', sans-serif;font-size:13px;" textLength="31" lengthAdjust="spacingAndGlyphs">51.90</text>
<text x="86.8" y="682" fill="#333a44" style="font-family:'Liberation Sans', sans-serif;font-size:13px;" text-anchor="end" textLength="31" lengthAdjust="spacingAndGlyphs">30.89</text>
<text x="1159" y="682" fill="#333a44" style="font-family:'Liberation Sans', sans-serif;font-size:13px;" textLength="31" lengthAdjust="spacingAndGlyphs">30.89</text>
<g shape-rendering="crispEdges">
<rect x="93" y="216" width="1" height="3" fill="#d74b45"/>
<rect x="93" y="223" width="1" height="1" fill="#d74b45"/>
<rect x="92" y="219" width="1" height="4" fill="#d74b45"/>
<rect x="94" y="219" width="1" height="4" fill="#d74b45"/>
<rect x="93" y="219" width="1" height="1" fill="#d74b45"/>
<rect x="93" y="222" width="1" height="1" fill="#d74b45"/>
<rect x="98" y="214" width="1" height="3" fill="#d74b45"/>
<rect x="98" y="221" width="1" height="1" fill="#d74b45"/>
<rect x="97" y="217" width="1" height="4" fill="#d74b45"/>
<rect x="99" y="217" width="1" height="4" fill="#d74b45"/>
<rect x="98" y="217" width="1" height="1" fill="#d74b45"/>
<rect x="98" y="220" width="1" height="1" fill="#d74b45"/>
<rect x="103" y="209" width="1" height="8" fill="#d74b45"/>
<rect x="103" y="219" width="1" height="3" fill="#d74b45"/>
<rect x="102" y="217" width="3" height="2" fill="#d74b45"/>
<rect x="108" y="205" width="1" height="21" fill="#5ea55c"/>
<rect x="107" y="217" width="3" height="4" fill="#5ea55c"/>
<rect x="113" y="218" width="1" height="17" fill="#5ea55c"/>
<rect x="112" y="220" width="3" height="10" fill="#5ea55c"/>
<rect x="118" y="224" width="1" height="22" fill="#5ea55c"/>
<rect x="117" y="229" width="3" height="16" fill="#5ea55c"/>
<rect x="123" y="238" width="1" height="2" fill="#d74b45"/>
<rect x="122" y="240" width="1" height="5" fill="#d74b45"/>
<rect x="124" y="240" width="1" height="5" fill="#d74b45"/>
<rect x="123" y="240" width="1" height="1" fill="#d74b45"/>
<rect x="123" y="244" width="1" height="1" fill="#d74b45"/>
<rect x="128" y="230" width="1" height="8" fill="#d74b45"/>
<rect x="128" y="240" width="1" height="9" fill="#d74b45"/>
<rect x="127" y="238" width="3" height="2" fill="#d74b45"/>
<rect x="133" y="219" width="1" height="2" fill="#d74b45"/>
<rect x="133" y="238" width="1" height="8" fill="#d74b45"/>
<rect x="132" y="221" width="1" height="17" fill="#d74b45"/>
<rect x="134" y="221" width="1" height="17" fill="#d74b45"/>
<rect x="133" y="221" width="1" height="1" fill="#d74b45"/>
<rect x="133" y="237" width="1" height="1" fill="#d74b45"/>
<rect x="138" y="187" width="1" height="2" fill="#d74b45"/>
<rect x="137" y="189" width="1" height="33" fill="#d74b45"/>
<rect x="139" y="189" width="1" height="33" fill="#d74b45"/>
<rect x="138" y="189" width="1" height="1" fill="#d74b45"/>
<rect x="138" y="221" width="1" height="1" fill="#d74b45"/>
<rect x="143" y="180" width="1" height="5" fill="#d74b45"/>
<rect x="143" y="189" width="1" height="16" fill="#d74b45"/>
<rect x="142" y="185" width="1" height="4" fill="#d74b45"/>
<rect x="144" y="185" width="1" height="4" fill="#d74b45"/>
<rect x="143" y="185" width="1" height="1" fill="#d74b45"/>
<rect x="143" y="188" width="1" height="1" fill="#d74b45"/>
<rect x="148" y="176" width="1" height="8" fill="#d74b45"/>
<rect x="148" y="186" width="1" height="5" fill="#d74b45"/>
<rect x="147" y="184" width="3" height="2" fill="#d74b45"/>
<rect x="153" y="173" width="1" height="4" fill="#d74b45"/>
<rect x="153" y="185" width="1" height="14" fill="#d74b45"/>
<rect x="152" y="177" width="1" height="8" fill="#d74b45"/>
<rect x="154" y="177" width="1" height="8" fill="#d74b45"/>
<rect x="153" y="177" width="1" height="1" fill="#d74b45"/>
<rect x="153" y="184" width="1" height="1" fill="#d74b45"/>
<rect x="158" y="166" width="1" height="20" fill="#5ea55c"/>
<rect x="157" y="177" width="3" height="3" fill="#5ea55c"/>
<rect x="163" y="170" width="1" height="2" fill="#d74b45"/>
<rect x="163" y="181" width="1" height="20" fill="#d74b45"/>
<rect x="162" y="172" width="1" height="9" fill="#d74b45"/>
<rect x="164" y="172" width="1" height="9" fill="#d74b45"/>
<rect x="163" y="172" width="1" height="1" fill="#d74b45"/>
<rect x="163" y="180" width="1" height="1" fill="#d74b45"/>
<rect x="168" y="124" width="1" height="23" fill="#d74b45"/>
<rect x="168" y="173" width="1" height="2" fill="#d74b45"/>
<rect x="167" y="147" width="1" height="26" fill="#d74b45"/>
<rect x="169" y="147" width="1" height="26" fill="#d74b45"/>
<rect x="168" y="147" width="1" height="1" fill="#d74b45"/>
<rect x="168" y="172" width="1" height="1" fill="#d74b45"/>
<rect x="173" y="77" width="1" height="9" fill="#d74b45"/>
<rect x="173" y="148" width="1" height="2" fill="#d74b45"/>
<rect x="172" y="86" width="1" height="62" fill="#d74b45"/>
<rect x="174" y="86" width="1" height="62" fill="#d74b45"/>
<rect x="173" y="86" width="1" height="1" fill="#d74b45"/>
<rect x="173" y="147" width="1" height="1" fill="#d74b45"/>
<rect x="178" y="79" width="1" height="56" fill="#5ea55c"/>
<rect x="177" y="86" width="3" height="45" fill="#5ea55c"/>
<rect x="183" y="121" width="1" height="36" fill="#5ea55c"/>
<rect x="182" y="130" width="3" height="25" fill="#5ea55c"/>
<rect x="188" y="151" width="1" height="37" fill="#5ea55c"/>
<rect x="187" y="154" width="3" height="27" fill="#5ea55c"/>
<rect x="193" y="167" width="1" height="7" fill="#d74b45"/>
<rect x="193" y="181" width="1" height="7" fill="#d74b45"/>
<rect x="192" y="174" width="1" height="7" fill="#d74b45"/>
<rect x="194" y="174" width="1" height="7" fill="#d74b45"/>
<rect x="193" y="174" width="1" height="1" fill="#d74b45"/>
<rect x="193" y="180" width="1" height="1" fill="#d74b45"/>
<rect x="198" y="173" width="1" height="23" fill="#5ea55c"/>
<rect x="197" y="174" width="3" height="21" fill="#5ea55c"/>
<rect x="203" y="183" width="1" height="7" fill="#d74b45"/>
<rect x="203" y="195" width="1" height="3" fill="#d74b45"/>
<rect x="202" y="190" width="1" height="5" fill="#d74b45"/>
<rect x="204" y="190" width="1" height="5" fill="#d74b45"/>
<rect x="203" y="190" width="1" height="1" fill="#d74b45"/>
<rect x="203" y="194" width="1" height="1" fill="#d74b45"/>
<rect x="208" y="179" width="1" height="33" fill="#5ea55c"/>
<rect x="207" y="185" width="3" height="15" fill="#5ea55c"/>
<rect x="213" y="196" width="1" height="12" fill="#5ea55c"/>
<rect x="212" y="199" width="3" height="4" fill="#5ea55c"/>
<rect x="218" y="194" width="1" height="15" fill="#5ea55c"/>
<rect x="217" y="201" width="3" height="5" fill="#5ea55c"/>
<rect x="223" y="196" width="1" height="29" fill="#5ea55c"/>
<rect x="222" y="205" width="3" height="9" fill="#5ea55c"/>
<rect x="228" y="206" width="1" height="4" fill="#d74b45"/>
<rect x="228" y="214" width="1" height="11" fill="#d74b45"/>
<rect x="227" y="210" width="1" height="4" fill="#d74b45"/>
<rect x="229" y="210" width="1" height="4" fill="#d74b45"/>
<rect x="228" y="210" width="1" height="1" fill="#d74b45"/>
<rect x="228" y="213" width="1" height="1" fill="#d74b45"/>
<rect x="233" y="207" width="1" height="16" fill="#5ea55c"/>
<rect x="232" y="210" width="3" height="13" fill="#5ea55c"/>
<rect x="238" y="217" width="1" height="2" fill="#d74b45"/>
<rect x="238" y="222" width="1" height="1" fill="#d74b45"/>
<rect x="237" y="219" width="3" height="3" fill="#d74b45"/>
<rect x="243" y="206" width="1" height="6" fill="#d74b45"/>
<rect x="243" y="219" width="1" height="4" fill="#d74b45"/>
<rect x="242" y="212" width="1" height="7" fill="#d74b45"/>
<rect x="244" y="212" width="1" height="7" fill="#d74b45"/>
<rect x="243" y="212" width="1" height="1" fill="#d74b45"/>
<rect x="243" y="218" width="1" height="1" fill="#d74b45"/>
<rect x="248" y="201" width="1" height="8" fill="#d74b45"/>
<rect x="248" y="213" width="1" height="6" fill="#d74b45"/>
<rect x="247" y="209" width="1" height="4" fill="#d74b45"/>
<rect x="249" y="209" width="1" height="4" fill="#d74b45"/>
<rect x="248" y="209" width="1" height="1" fill="#d74b45"/>
<rect x="248" y="212" width="1" height="1" fill="#d74b45"/>
<rect x="253" y="199" width="1" height="2" fill="#d74b45"/>
<rect x="253" y="210" width="1" height="9" fill="#d74b45"/>
<rect x="252" y="201" width="1" height="9" fill="#d74b45"/>
<rect x="254" y="201" width="1" height="9" fill="#d74b45"/>
<rect x="253" y="201" width="1" height="1" fill="#d74b45"/>
<rect x="253" y="209" width="1" height="1" fill="#d74b45"/>
<rect x="258" y="185" width="1" height="71" fill="#5ea55c"/>
<rect x="257" y="200" width="3" height="47" fill="#5ea55c"/>
<rect x="263" y="228" width="1" height="8" fill="#d74b45"/>
<rect x="263" y="246" width="1" height="4" fill="#d74b45"/>
<rect x="262" y="236" width="1" height="10" fill="#d74b45"/>
<rect x="264" y="236" width="1" height="10" fill="#d74b45"/>
<rect x="263" y="236" width="1" height="1" fill="#d74b45"/>
<rect x="263" y="245" width="1" height="1" fill="#d74b45"/>
<rect x="268" y="215" width="1" height="17" fill="#d74b45"/>
<rect x="267" y="232" width="1" height="5" fill="#d74b45"/>
<rect x="269" y="232" width="1" height="5" fill="#d74b45"/>
<rect x="268" y="232" width="1" height="1" fill="#d74b45"/>
<rect x="268" y="236" width="1" height="1" fill="#d74b45"/>
<rect x="273" y="227" width="1" height="54" fill="#5ea55c"/>
<rect x="272" y="232" width="3" height="42" fill="#5ea55c"/>
<rect x="278" y="246" width="1" height="51" fill="#5ea55c"/>
<rect x="277" y="273" width="3" height="7" fill="#5ea55c"/>
<rect x="283" y="277" width="1" height="81" fill="#5ea55c"/>
<rect x="282" y="278" width="3" height="52" fill="#5ea55c"/>
<rect x="288" y="309" width="1" height="13" fill="#d74b45"/>
<rect x="288" y="330" width="1" height="43" fill="#d74b45"/>
<rect x="287" y="322" width="1" height="8" fill="#d74b45"/>
<rect x="289" y="322" width="1" height="8" fill="#d74b45"/>
<rect x="288" y="322" width="1" height="1" fill="#d74b45"/>
<rect x="288" y="329" width="1" height="1" fill="#d74b45"/>
<rect x="293" y="299" width="1" height="60" fill="#5ea55c"/>
<rect x="292" y="322" width="3" height="14" fill="#5ea55c"/>
<rect x="298" y="312" width="1" height="16" fill="#d74b45"/>
<rect x="298" y="335" width="1" height="11" fill="#d74b45"/>
<rect x="297" y="328" width="1" height="7" fill="#d74b45"/>
<rect x="299" y="328" width="1" height="7" fill="#d74b45"/>
<rect x="298" y="328" width="1" height="1" fill="#d74b45"/>
<rect x="298" y="334" width="1" height="1" fill="#d74b45"/>
<rect x="303" y="311" width="1" height="35" fill="#5ea55c"/>
<rect x="302" y="327" width="3" height="15" fill="#5ea55c"/>
<rect x="308" y="319" width="1" height="9" fill="#d74b45"/>
<rect x="308" y="342" width="1" height="6" fill="#d74b45"/>
<rect x="307" y="328" width="1" height="14" fill="#d74b45"/>
<rect x="309" y="328" width="1" height="14" fill="#d74b45"/>
<rect x="308" y="328" width="1" height="1" fill="#d74b45"/>
<rect x="308" y="341" width="1" height="1" fill="#d74b45"/>
<rect x="313" y="318" width="1" height="20" fill="#5ea55c"/>
<rect x="312" y="328" width="3" height="8" fill="#5ea55c"/>
<rect x="318" y="320" width="1" height="1" fill="#d74b45"/>
<rect x="317" y="321" width="1" height="13" fill="#d74b45"/>
<rect x="319" y="321" width="1" height="13" fill="#d74b45"/>
<rect x="318" y="321" width="1" height="1" fill="#d74b45"/>
<rect x="318" y="333" width="1" height="1" fill="#d74b45"/>
<rect x="323" y="322" width="1" height="7" fill="#d74b45"/>
<rect x="322" y="329" width="1" height="5" fill="#d74b45"/>
<rect x="324" y="329" width="1" height="5" fill="#d74b45"/>
<rect x="323" y="329" width="1" height="1" fill="#d74b45"/>
<rect x="323" y="333" width="1" height="1" fill="#d74b45"/>
<rect x="328" y="327" width="1" height="8" fill="#5ea55c"/>
<rect x="327" y="330" width="3" height="4" fill="#5ea55c"/>
<rect x="333" y="318" width="1" height="26" fill="#5ea55c"/>
<rect x="332" y="331" width="3" height="4" fill="#5ea55c"/>
<rect x="338" y="329" width="1" height="24" fill="#5ea55c"/>
<rect x="337" y="334" width="3" height="15" fill="#5ea55c"/>
<rect x="343" y="340" width="1" height="27" fill="#5ea55c"/>
<rect x="342" y="348" width="3" height="10" fill="#5ea55c"/>
<rect x="348" y="342" width="1" height="6" fill="#d74b45"/>
<rect x="348" y="358" width="1" height="3" fill="#d74b45"/>
<rect x="347" y="348" width="1" height="10" fill="#d74b45"/>
<rect x="349" y="348" width="1" height="10" fill="#d74b45"/>
<rect x="348" y="348" width="1" height="1" fill="#d74b45"/>
<rect x="348" y="357" width="1" height="1" fill="#d74b45"/>
<rect x="353" y="344" width="1" height="8" fill="#5ea55c"/>
<rect x="352" y="348" width="3" height="4" fill="#5ea55c"/>
<rect x="358" y="342" width="1" height="8" fill="#d74b45"/>
<rect x="358" y="354" width="1" height="4" fill="#d74b45"/>
<rect x="357" y="350" width="1" height="4" fill="#d74b45"/>
<rect x="359" y="350" width="1" height="4" fill="#d74b45"/>
<rect x="358" y="350" width="1" height="1" fill="#d74b45"/>
<rect x="358" y="353" width="1" height="1" fill="#d74b45"/>
<rect x="363" y="311" width="1" height="3" fill="#d74b45"/>
<rect x="363" y="350" width="1" height="5" fill="#d74b45"/>
<rect x="362" y="314" width="1" height="36" fill="#d74b45"/>
<rect x="364" y="314" width="1" height="36" fill="#d74b45"/>
<rect x="363" y="314" width="1" height="1" fill="#d74b45"/>
<rect x="363" y="349" width="1" height="1" fill="#d74b45"/>
<rect x="368" y="313" width="1" height="34" fill="#5ea55c"/>
<rect x="367" y="314" width="3" height="13" fill="#5ea55c"/>
<rect x="373" y="326" width="1" height="39" fill="#5ea55c"/>
<rect x="372" y="327" width="3" height="10" fill="#5ea55c"/>
<rect x="378" y="328" width="1" height="21" fill="#5ea55c"/>
<rect x="377" y="336" width="3" height="12" fill="#5ea55c"/>
<rect x="383" y="342" width="1" height="3" fill="#d74b45"/>
<rect x="383" y="348" width="1" height="18" fill="#d74b45"/>
<rect x="382" y="345" width="3" height="3" fill="#d74b45"/>
<rect x="388" y="300" width="1" height="13" fill="#d74b45"/>
<rect x="387" y="313" width="1" height="33" fill="#d74b45"/>
<rect x="389" y="313" width="1" height="33" fill="#d74b45"/>
<rect x="388" y="313" width="1" height="1" fill="#d74b45"/>
<rect x="388" y="345" width="1" height="1" fill="#d74b45"/>
<rect x="393" y="304" width="1" height="32" fill="#5ea55c"/>
<rect x="392" y="313" width="3" height="8" fill="#5ea55c"/>
<rect x="398" y="287" width="1" height="25" fill="#d74b45"/>
<rect x="398" y="321" width="1" height="28" fill="#d74b45"/>
<rect x="397" y="312" width="1" height="9" fill="#d74b45"/>
<rect x="399" y="312" width="1" height="9" fill="#d74b45"/>
<rect x="398" y="312" width="1" height="1" fill="#d74b45"/>
<rect x="398" y="320" width="1" height="1" fill="#d74b45"/>
<rect x="403" y="298" width="1" height="45" fill="#5ea55c"/>
<rect x="402" y="313" width="3" height="25" fill="#5ea55c"/>
<rect x="408" y="286" width="1" height="16" fill="#d74b45"/>
<rect x="408" y="338" width="1" height="2" fill="#d74b45"/>
<rect x="407" y="302" width="1" height="36" fill="#d74b45"/>
<rect x="409" y="302" width="1" height="36" fill="#d74b45"/>
<rect x="408" y="302" width="1" height="1" fill="#d74b45"/>
<rect x="408" y="337" width="1" height="1" fill="#d74b45"/>
<rect x="413" y="263" width="1" height="6" fill="#d74b45"/>
<rect x="413" y="303" width="1" height="3" fill="#d74b45"/>
<rect x="412" y="269" width="1" height="34" fill="#d74b45"/>
<rect x="414" y="269" width="1" height="34" fill="#d74b45"/>
<rect x="413" y="269" width="1" height="1" fill="#d74b45"/>
<rect x="413" y="302" width="1" height="1" fill="#d74b45"/>
<rect x="418" y="247" width="1" height="41" fill="#5ea55c"/>
<rect x="417" y="269" width="3" height="17" fill="#5ea55c"/>
<rect x="423" y="283" width="1" height="35" fill="#5ea55c"/>
<rect x="422" y="285" width="3" height="21" fill="#5ea55c"/>
<rect x="428" y="303" width="1" height="16" fill="#5ea55c"/>
<rect x="427" y="305" width="3" height="12" fill="#5ea55c"/>
<rect x="433" y="314" width="1" height="20" fill="#5ea55c"/>
<rect x="432" y="315" width="3" height="14" fill="#5ea55c"/>
<rect x="438" y="325" width="1" height="10" fill="#5ea55c"/>
<rect x="437" y="328" width="3" height="3" fill="#5ea55c"/>
<rect x="443" y="321" width="1" height="7" fill="#d74b45"/>
<rect x="442" y="328" width="3" height="3" fill="#d74b45"/>
<rect x="448" y="325" width="1" height="14" fill="#5ea55c"/>
<rect x="447" y="329" width="3" height="3" fill="#5ea55c"/>
<rect x="453" y="301" width="1" height="3" fill="#d74b45"/>
<rect x="452" y="304" width="1" height="29" fill="#d74b45"/>
<rect x="454" y="304" width="1" height="29" fill="#d74b45"/>
<rect x="453" y="304" width="1" height="1" fill="#d74b45"/>
<rect x="453" y="332" width="1" height="1" fill="#d74b45"/>
<rect x="458" y="299" width="1" height="23" fill="#5ea55c"/>
<rect x="457" y="304" width="3" height="15" fill="#5ea55c"/>
<rect x="463" y="314" width="1" height="10" fill="#5ea55c"/>
<rect x="462" y="318" width="3" height="6" fill="#5ea55c"/>
<rect x="468" y="320" width="1" height="7" fill="#5ea55c"/>
<rect x="467" y="322" width="3" height="3" fill="#5ea55c"/>
<rect x="473" y="304" width="1" height="5" fill="#d74b45"/>
<rect x="472" y="309" width="1" height="15" fill="#d74b45"/>
<rect x="474" y="309" width="1" height="15" fill="#d74b45"/>
<rect x="473" y="309" width="1" height="1" fill="#d74b45"/>
<rect x="473" y="323" width="1" height="1" fill="#d74b45"/>
<rect x="478" y="307" width="1" height="20" fill="#5ea55c"/>
<rect x="477" y="309" width="3" height="18" fill="#5ea55c"/>
<rect x="483" y="316" width="1" height="24" fill="#5ea55c"/>
<rect x="482" y="326" width="3" height="14" fill="#5ea55c"/>
<rect x="488" y="322" width="1" height="30" fill="#5ea55c"/>
<rect x="487" y="338" width="3" height="7" fill="#5ea55c"/>
<rect x="493" y="332" width="1" height="3" fill="#d74b45"/>
<rect x="493" y="345" width="1" height="7" fill="#d74b45"/>
<rect x="492" y="335" width="1" height="10" fill="#d74b45"/>
<rect x="494" y="335" width="1" height="10" fill="#d74b45"/>
<rect x="493" y="335" width="1" height="1" fill="#d74b45"/>
<rect x="493" y="344" width="1" height="1" fill="#d74b45"/>
<rect x="498" y="324" width="1" height="21" fill="#5ea55c"/>
<rect x="497" y="335" width="3" height="6" fill="#5ea55c"/>
<rect x="503" y="264" width="1" height="7" fill="#d74b45"/>
<rect x="502" y="271" width="1" height="70" fill="#d74b45"/>
<rect x="504" y="271" width="1" height="70" fill="#d74b45"/>
<rect x="503" y="271" width="1" height="1" fill="#d74b45"/>
<rect x="503" y="340" width="1" height="1" fill="#d74b45"/>
<rect x="508" y="243" width="1" height="11" fill="#d74b45"/>
<rect x="507" y="254" width="1" height="18" fill="#d74b45"/>
<rect x="509" y="254" width="1" height="18" fill="#d74b45"/>
<rect x="508" y="254" width="1" height="1" fill="#d74b45"/>
<rect x="508" y="271" width="1" height="1" fill="#d74b45"/>
<rect x="513" y="251" width="1" height="68" fill="#5ea55c"/>
<rect x="512" y="255" width="3" height="55" fill="#5ea55c"/>
<rect x="518" y="300" width="1" height="77" fill="#5ea55c"/>
<rect x="517" y="310" width="3" height="61" fill="#5ea55c"/>
<rect x="523" y="363" width="1" height="32" fill="#5ea55c"/>
<rect x="522" y="372" width="3" height="21" fill="#5ea55c"/>
<rect x="528" y="392" width="1" height="29" fill="#5ea55c"/>
<rect x="527" y="393" width="3" height="10" fill="#5ea55c"/>
<rect x="533" y="390" width="1" height="29" fill="#5ea55c"/>
<rect x="532" y="401" width="3" height="4" fill="#5ea55c"/>
<rect x="538" y="398" width="1" height="38" fill="#5ea55c"/>
<rect x="537" y="404" width="3" height="20" fill="#5ea55c"/>
<rect x="543" y="415" width="1" height="13" fill="#5ea55c"/>
<rect x="542" y="423" width="3" height="5" fill="#5ea55c"/>
<rect x="548" y="417" width="1" height="2" fill="#d74b45"/>
<rect x="548" y="429" width="1" height="2" fill="#d74b45"/>
<rect x="547" y="419" width="1" height="10" fill="#d74b45"/>
<rect x="549" y="419" width="1" height="10" fill="#d74b45"/>
<rect x="548" y="419" width="1" height="1" fill="#d74b45"/>
<rect x="548" y="428" width="1" height="1" fill="#d74b45"/>
<rect x="553" y="412" width="1" height="2" fill="#d74b45"/>
<rect x="552" y="414" width="1" height="7" fill="#d74b45"/>
<rect x="554" y="414" width="1" height="7" fill="#d74b45"/>
<rect x="553" y="414" width="1" height="1" fill="#d74b45"/>
<rect x="553" y="420" width="1" height="1" fill="#d74b45"/>
<rect x="558" y="408" width="1" height="5" fill="#d74b45"/>
<rect x="558" y="416" width="1" height="2" fill="#d74b45"/>
<rect x="557" y="413" width="3" height="3" fill="#d74b45"/>
<rect x="563" y="405" width="1" height="5" fill="#d74b45"/>
<rect x="563" y="416" width="1" height="2" fill="#d74b45"/>
<rect x="562" y="410" width="1" height="6" fill="#d74b45"/>
<rect x="564" y="410" width="1" height="6" fill="#d74b45"/>
<rect x="563" y="410" width="1" height="1" fill="#d74b45"/>
<rect x="563" y="415" width="1" height="1" fill="#d74b45"/>
<rect x="568" y="403" width="1" height="3" fill="#d74b45"/>
<rect x="568" y="411" width="1" height="24" fill="#d74b45"/>
<rect x="567" y="406" width="1" height="5" fill="#d74b45"/>
<rect x="569" y="406" width="1" height="5" fill="#d74b45"/>
<rect x="568" y="406" width="1" height="1" fill="#d74b45"/>
<rect x="568" y="410" width="1" height="1" fill="#d74b45"/>
<rect x="573" y="403" width="1" height="16" fill="#5ea55c"/>
<rect x="572" y="406" width="3" height="8" fill="#5ea55c"/>
<rect x="578" y="412" width="1" height="12" fill="#5ea55c"/>
<rect x="577" y="414" width="3" height="5" fill="#5ea55c"/>
<rect x="583" y="413" width="1" height="5" fill="#d74b45"/>
<rect x="583" y="420" width="1" height="5" fill="#d74b45"/>
<rect x="582" y="418" width="3" height="2" fill="#d74b45"/>
<rect x="588" y="413" width="1" height="15" fill="#5ea55c"/>
<rect x="587" y="419" width="3" height="9" fill="#5ea55c"/>
<rect x="593" y="419" width="1" height="6" fill="#d74b45"/>
<rect x="593" y="428" width="1" height="10" fill="#d74b45"/>
<rect x="592" y="425" width="3" height="3" fill="#d74b45"/>
<rect x="598" y="411" width="1" height="14" fill="#d74b45"/>
<rect x="598" y="427" width="1" height="16" fill="#d74b45"/>
<rect x="597" y="425" width="3" height="2" fill="#d74b45"/>
<rect x="603" y="407" width="1" height="16" fill="#d74b45"/>
<rect x="603" y="425" width="1" height="5" fill="#d74b45"/>
<rect x="602" y="423" width="3" height="2" fill="#d74b45"/>
<rect x="608" y="396" width="1" height="5" fill="#d74b45"/>
<rect x="608" y="424" width="1" height="16" fill="#d74b45"/>
<rect x="607" y="401" width="1" height="23" fill="#d74b45"/>
<rect x="609" y="401" width="1" height="23" fill="#d74b45"/>
<rect x="608" y="401" width="1" height="1" fill="#d74b45"/>
<rect x="608" y="423" width="1" height="1" fill="#d74b45"/>
<rect x="613" y="389" width="1" height="20" fill="#5ea55c"/>
<rect x="612" y="401" width="3" height="3" fill="#5ea55c"/>
<rect x="618" y="398" width="1" height="29" fill="#5ea55c"/>
<rect x="617" y="403" width="3" height="14" fill="#5ea55c"/>
<rect x="623" y="406" width="1" height="29" fill="#5ea55c"/>
<rect x="622" y="415" width="3" height="7" fill="#5ea55c"/>
<rect x="628" y="416" width="1" height="56" fill="#5ea55c"/>
<rect x="627" y="421" width="3" height="35" fill="#5ea55c"/>
<rect x="633" y="437" width="1" height="45" fill="#5ea55c"/>
<rect x="632" y="456" width="3" height="23" fill="#5ea55c"/>
<rect x="638" y="470" width="1" height="47" fill="#5ea55c"/>
<rect x="637" y="478" width="3" height="34" fill="#5ea55c"/>
<rect x="643" y="500" width="1" height="23" fill="#5ea55c"/>
<rect x="642" y="511" width="3" height="2" fill="#5ea55c"/>
<rect x="648" y="489" width="1" height="9" fill="#d74b45"/>
<rect x="648" y="514" width="1" height="1" fill="#d74b45"/>
<rect x="647" y="498" width="1" height="16" fill="#d74b45"/>
<rect x="649" y="498" width="1" height="16" fill="#d74b45"/>
<rect x="648" y="498" width="1" height="1" fill="#d74b45"/>
<rect x="648" y="513" width="1" height="1" fill="#d74b45"/>
<rect x="653" y="483" width="1" height="18" fill="#5ea55c"/>
<rect x="652" y="498" width="3" height="2" fill="#5ea55c"/>
<rect x="658" y="493" width="1" height="4" fill="#d74b45"/>
<rect x="658" y="500" width="1" height="10" fill="#d74b45"/>
<rect x="657" y="497" width="3" height="3" fill="#d74b45"/>
<rect x="663" y="494" width="1" height="26" fill="#5ea55c"/>
<rect x="662" y="498" width="3" height="20" fill="#5ea55c"/>
<rect x="668" y="505" width="1" height="11" fill="#5ea55c"/>
<rect x="667" y="509" width="3" height="3" fill="#5ea55c"/>
<rect x="673" y="504" width="1" height="1" fill="#d74b45"/>
<rect x="673" y="512" width="1" height="5" fill="#d74b45"/>
<rect x="672" y="505" width="1" height="7" fill="#d74b45"/>
<rect x="674" y="505" width="1" height="7" fill="#d74b45"/>
<rect x="673" y="505" width="1" height="1" fill="#d74b45"/>
<rect x="673" y="511" width="1" height="1" fill="#d74b45"/>
<rect x="678" y="494" width="1" height="4" fill="#d74b45"/>
<rect x="677" y="498" width="1" height="16" fill="#d74b45"/>
<rect x="679" y="498" width="1" height="16" fill="#d74b45"/>
<rect x="678" y="498" width="1" height="1" fill="#d74b45"/>
<rect x="678" y="513" width="1" height="1" fill="#d74b45"/>
<rect x="683" y="480" width="1" height="1" fill="#d74b45"/>
<rect x="683" y="499" width="1" height="4" fill="#d74b45"/>
<rect x="682" y="481" width="1" height="18" fill="#d74b45"/>
<rect x="684" y="481" width="1" height="18" fill="#d74b45"/>
<rect x="683" y="481" width="1" height="1" fill="#d74b45"/>
<rect x="683" y="498" width="1" height="1" fill="#d74b45"/>
<rect x="688" y="478" width="1" height="7" fill="#5ea55c"/>
<rect x="687" y="481" width="3" height="4" fill="#5ea55c"/>
<rect x="693" y="480" width="1" height="9" fill="#5ea55c"/>
<rect x="692" y="484" width="3" height="2" fill="#5ea55c"/>
<rect x="698" y="476" width="1" height="1" fill="#d74b45"/>
<rect x="698" y="485" width="1" height="1" fill="#d74b45"/>
<rect x="697" y="477" width="1" height="8" fill="#d74b45"/>
<rect x="699" y="477" width="1" height="8" fill="#d74b45"/>
<rect x="698" y="477" width="1" height="1" fill="#d74b45"/>
<rect x="698" y="484" width="1" height="1" fill="#d74b45"/>
<rect x="703" y="471" width="1" height="5" fill="#d74b45"/>
<rect x="703" y="477" width="1" height="6" fill="#d74b45"/>
<rect x="702" y="476" width="3" height="1" fill="#d74b45"/>
<rect x="708" y="466" width="1" height="9" fill="#d74b45"/>
<rect x="708" y="477" width="1" height="6" fill="#d74b45"/>
<rect x="707" y="475" width="3" height="2" fill="#d74b45"/>
<rect x="713" y="467" width="1" height="2" fill="#d74b45"/>
<rect x="713" y="476" width="1" height="5" fill="#d74b45"/>
<rect x="712" y="469" width="1" height="7" fill="#d74b45"/>
<rect x="714" y="469" width="1" height="7" fill="#d74b45"/>
<rect x="713" y="469" width="1" height="1" fill="#d74b45"/>
<rect x="713" y="475" width="1" height="1" fill="#d74b45"/>
<rect x="718" y="468" width="1" height="24" fill="#5ea55c"/>
<rect x="717" y="469" width="3" height="17" fill="#5ea55c"/>
<rect x="723" y="477" width="1" height="29" fill="#5ea55c"/>
<rect x="722" y="486" width="3" height="2" fill="#5ea55c"/>
<rect x="728" y="483" width="1" height="27" fill="#5ea55c"/>
<rect x="727" y="487" width="3" height="16" fill="#5ea55c"/>
<rect x="733" y="496" width="1" height="24" fill="#5ea55c"/>
<rect x="732" y="502" width="3" height="8" fill="#5ea55c"/>
<rect x="738" y="473" width="1" height="45" fill="#5ea55c"/>
<rect x="737" y="509" width="3" height="6" fill="#5ea55c"/>
<rect x="743" y="470" width="1" height="5" fill="#d74b45"/>
<rect x="743" y="515" width="1" height="26" fill="#d74b45"/>
<rect x="742" y="475" width="1" height="40" fill="#d74b45"/>
<rect x="744" y="475" width="1" height="40" fill="#d74b45"/>
<rect x="743" y="475" width="1" height="1" fill="#d74b45"/>
<rect x="743" y="514" width="1" height="1" fill="#d74b45"/>
<rect x="748" y="431" width="1" height="1" fill="#d74b45"/>
<rect x="748" y="476" width="1" height="8" fill="#d74b45"/>
<rect x="747" y="432" width="1" height="44" fill="#d74b45"/>
<rect x="749" y="432" width="1" height="44" fill="#d74b45"/>
<rect x="748" y="432" width="1" height="1" fill="#d74b45"/>
<rect x="748" y="475" width="1" height="1" fill="#d74b45"/>
<rect x="753" y="425" width="1" height="33" fill="#5ea55c"/>
<rect x="752" y="432" width="3" height="26" fill="#5ea55c"/>
<rect x="758" y="450" width="1" height="20" fill="#5ea55c"/>
<rect x="757" y="458" width="3" height="3" fill="#5ea55c"/>
<rect x="763" y="458" width="1" height="37" fill="#5ea55c"/>
<rect x="762" y="460" width="3" height="14" fill="#5ea55c"/>
<rect x="768" y="462" width="1" height="31" fill="#5ea55c"/>
<rect x="767" y="473" width="3" height="20" fill="#5ea55c"/>
<rect x="773" y="488" width="1" height="19" fill="#5ea55c"/>
<rect x="772" y="492" width="3" height="7" fill="#5ea55c"/>
<rect x="778" y="492" width="1" height="2" fill="#d74b45"/>
<rect x="778" y="499" width="1" height="2" fill="#d74b45"/>
<rect x="777" y="494" width="1" height="5" fill="#d74b45"/>
<rect x="779" y="494" width="1" height="5" fill="#d74b45"/>
<rect x="778" y="494" width="1" height="1" fill="#d74b45"/>
<rect x="778" y="498" width="1" height="1" fill="#d74b45"/>
<rect x="783" y="490" width="1" height="17" fill="#5ea55c"/>
<rect x="782" y="497" width="3" height="10" fill="#5ea55c"/>
<rect x="788" y="505" width="1" height="10" fill="#5ea55c"/>
<rect x="787" y="507" width="3" height="2" fill="#5ea55c"/>
<rect x="793" y="498" width="1" height="1" fill="#d74b45"/>
<rect x="792" y="499" width="1" height="10" fill="#d74b45"/>
<rect x="794" y="499" width="1" height="10" fill="#d74b45"/>
<rect x="793" y="499" width="1" height="1" fill="#d74b45"/>
<rect x="793" y="508" width="1" height="1" fill="#d74b45"/>
<rect x="798" y="477" width="1" height="1" fill="#d74b45"/>
<rect x="798" y="499" width="1" height="8" fill="#d74b45"/>
<rect x="797" y="478" width="1" height="21" fill="#d74b45"/>
<rect x="799" y="478" width="1" height="21" fill="#d74b45"/>
<rect x="798" y="478" width="1" height="1" fill="#d74b45"/>
<rect x="798" y="498" width="1" height="1" fill="#d74b45"/>
<rect x="803" y="470" width="1" height="7" fill="#d74b45"/>
<rect x="803" y="479" width="1" height="8" fill="#d74b45"/>
<rect x="802" y="477" width="3" height="2" fill="#d74b45"/>
<rect x="808" y="466" width="1" height="1" fill="#d74b45"/>
<rect x="808" y="478" width="1" height="3" fill="#d74b45"/>
<rect x="807" y="467" width="1" height="11" fill="#d74b45"/>
<rect x="809" y="467" width="1" height="11" fill="#d74b45"/>
<rect x="808" y="467" width="1" height="1" fill="#d74b45"/>
<rect x="808" y="477" width="1" height="1" fill="#d74b45"/>
<rect x="813" y="459" width="1" height="20" fill="#5ea55c"/>
<rect x="812" y="467" width="3" height="5" fill="#5ea55c"/>
<rect x="818" y="458" width="1" height="4" fill="#d74b45"/>
<rect x="818" y="474" width="1" height="1" fill="#d74b45"/>
<rect x="817" y="462" width="1" height="12" fill="#d74b45"/>
<rect x="819" y="462" width="1" height="12" fill="#d74b45"/>
<rect x="818" y="462" width="1" height="1" fill="#d74b45"/>
<rect x="818" y="473" width="1" height="1" fill="#d74b45"/>
<rect x="823" y="451" width="1" height="5" fill="#d74b45"/>
<rect x="822" y="456" width="1" height="7" fill="#d74b45"/>
<rect x="824" y="456" width="1" height="7" fill="#d74b45"/>
<rect x="823" y="456" width="1" height="1" fill="#d74b45"/>
<rect x="823" y="462" width="1" height="1" fill="#d74b45"/>
<rect x="828" y="442" width="1" height="37" fill="#5ea55c"/>
<rect x="827" y="456" width="3" height="17" fill="#5ea55c"/>
<rect x="833" y="466" width="1" height="39" fill="#5ea55c"/>
<rect x="832" y="472" width="3" height="28" fill="#5ea55c"/>
<rect x="838" y="487" width="1" height="22" fill="#5ea55c"/>
<rect x="837" y="499" width="3" height="10" fill="#5ea55c"/>
<rect x="843" y="499" width="1" height="6" fill="#d74b45"/>
<rect x="843" y="508" width="1" height="11" fill="#d74b45"/>
<rect x="842" y="505" width="3" height="3" fill="#d74b45"/>
<rect x="848" y="497" width="1" height="7" fill="#d74b45"/>
<rect x="848" y="506" width="1" height="28" fill="#d74b45"/>
<rect x="847" y="504" width="3" height="2" fill="#d74b45"/>
<rect x="853" y="493" width="1" height="26" fill="#5ea55c"/>
<rect x="852" y="506" width="3" height="11" fill="#5ea55c"/>
<rect x="858" y="469" width="1" height="7" fill="#d74b45"/>
<rect x="858" y="520" width="1" height="8" fill="#d74b45"/>
<rect x="857" y="476" width="1" height="44" fill="#d74b45"/>
<rect x="859" y="476" width="1" height="44" fill="#d74b45"/>
<rect x="858" y="476" width="1" height="1" fill="#d74b45"/>
<rect x="858" y="519" width="1" height="1" fill="#d74b45"/>
<rect x="863" y="459" width="1" height="3" fill="#d74b45"/>
<rect x="863" y="476" width="1" height="25" fill="#d74b45"/>
<rect x="862" y="462" width="1" height="14" fill="#d74b45"/>
<rect x="864" y="462" width="1" height="14" fill="#d74b45"/>
<rect x="863" y="462" width="1" height="1" fill="#d74b45"/>
<rect x="863" y="475" width="1" height="1" fill="#d74b45"/>
<rect x="868" y="431" width="1" height="22" fill="#d74b45"/>
<rect x="867" y="453" width="1" height="10" fill="#d74b45"/>
<rect x="869" y="453" width="1" height="10" fill="#d74b45"/>
<rect x="868" y="453" width="1" height="1" fill="#d74b45"/>
<rect x="868" y="462" width="1" height="1" fill="#d74b45"/>
<rect x="873" y="428" width="1" height="31" fill="#5ea55c"/>
<rect x="872" y="453" width="3" height="4" fill="#5ea55c"/>
<rect x="878" y="435" width="1" height="9" fill="#d74b45"/>
<rect x="877" y="444" width="1" height="14" fill="#d74b45"/>
<rect x="879" y="444" width="1" height="14" fill="#d74b45"/>
<rect x="878" y="444" width="1" height="1" fill="#d74b45"/>
<rect x="878" y="457" width="1" height="1" fill="#d74b45"/>
<rect x="883" y="420" width="1" height="14" fill="#d74b45"/>
<rect x="883" y="443" width="1" height="10" fill="#d74b45"/>
<rect x="882" y="434" width="1" height="9" fill="#d74b45"/>
<rect x="884" y="434" width="1" height="9" fill="#d74b45"/>
<rect x="883" y="434" width="1" height="1" fill="#d74b45"/>
<rect x="883" y="442" width="1" height="1" fill="#d74b45"/>
<rect x="888" y="424" width="1" height="6" fill="#d74b45"/>
<rect x="887" y="430" width="1" height="5" fill="#d74b45"/>
<rect x="889" y="430" width="1" height="5" fill="#d74b45"/>
<rect x="888" y="430" width="1" height="1" fill="#d74b45"/>
<rect x="888" y="434" width="1" height="1" fill="#d74b45"/>
<rect x="893" y="429" width="1" height="12" fill="#5ea55c"/>
<rect x="892" y="430" width="3" height="4" fill="#5ea55c"/>
<rect x="898" y="424" width="1" height="11" fill="#5ea55c"/>
<rect x="897" y="428" width="3" height="7" fill="#5ea55c"/>
<rect x="903" y="430" width="1" height="8" fill="#5ea55c"/>
<rect x="902" y="434" width="3" height="4" fill="#5ea55c"/>
<rect x="908" y="428" width="1" height="12" fill="#5ea55c"/>
<rect x="907" y="434" width="3" height="2" fill="#5ea55c"/>
<rect x="913" y="423" width="1" height="22" fill="#5ea55c"/>
<rect x="912" y="435" width="3" height="9" fill="#5ea55c"/>
<rect x="918" y="432" width="1" height="3" fill="#d74b45"/>
<rect x="918" y="444" width="1" height="1" fill="#d74b45"/>
<rect x="917" y="435" width="1" height="9" fill="#d74b45"/>
<rect x="919" y="435" width="1" height="9" fill="#d74b45"/>
<rect x="918" y="435" width="1" height="1" fill="#d74b45"/>
<rect x="918" y="443" width="1" height="1" fill="#d74b45"/>
<rect x="923" y="427" width="1" height="3" fill="#d74b45"/>
<rect x="922" y="430" width="1" height="5" fill="#d74b45"/>
<rect x="924" y="430" width="1" height="5" fill="#d74b45"/>
<rect x="923" y="430" width="1" height="1" fill="#d74b45"/>
<rect x="923" y="434" width="1" height="1" fill="#d74b45"/>
<rect x="928" y="428" width="1" height="3" fill="#5ea55c"/>
<rect x="927" y="429" width="3" height="2" fill="#5ea55c"/>
<rect x="933" y="417" width="1" height="5" fill="#d74b45"/>
<rect x="932" y="422" width="1" height="9" fill="#d74b45"/>
<rect x="934" y="422" width="1" height="9" fill="#d74b45"/>
<rect x="933" y="422" width="1" height="1" fill="#d74b45"/>
<rect x="933" y="430" width="1" height="1" fill="#d74b45"/>
<rect x="938" y="415" width="1" height="35" fill="#5ea55c"/>
<rect x="937" y="422" width="3" height="21" fill="#5ea55c"/>
<rect x="943" y="440" width="1" height="18" fill="#5ea55c"/>
<rect x="942" y="442" width="3" height="14" fill="#5ea55c"/>
<rect x="948" y="453" width="1" height="25" fill="#5ea55c"/>
<rect x="947" y="456" width="3" height="10" fill="#5ea55c"/>
<rect x="953" y="443" width="1" height="4" fill="#d74b45"/>
<rect x="953" y="466" width="1" height="6" fill="#d74b45"/>
<rect x="952" y="447" width="1" height="19" fill="#d74b45"/>
<rect x="954" y="447" width="1" height="19" fill="#d74b45"/>
<rect x="953" y="447" width="1" height="1" fill="#d74b45"/>
<rect x="953" y="465" width="1" height="1" fill="#d74b45"/>
<rect x="958" y="390" width="1" height="8" fill="#d74b45"/>
<rect x="957" y="398" width="1" height="50" fill="#d74b45"/>
<rect x="959" y="398" width="1" height="50" fill="#d74b45"/>
<rect x="958" y="398" width="1" height="1" fill="#d74b45"/>
<rect x="958" y="447" width="1" height="1" fill="#d74b45"/>
<rect x="963" y="380" width="1" height="14" fill="#d74b45"/>
<rect x="962" y="394" width="1" height="5" fill="#d74b45"/>
<rect x="964" y="394" width="1" height="5" fill="#d74b45"/>
<rect x="963" y="394" width="1" height="1" fill="#d74b45"/>
<rect x="963" y="398" width="1" height="1" fill="#d74b45"/>
<rect x="968" y="381" width="1" height="4" fill="#d74b45"/>
<rect x="968" y="395" width="1" height="1" fill="#d74b45"/>
<rect x="967" y="385" width="1" height="10" fill="#d74b45"/>
<rect x="969" y="385" width="1" height="10" fill="#d74b45"/>
<rect x="968" y="385" width="1" height="1" fill="#d74b45"/>
<rect x="968" y="394" width="1" height="1" fill="#d74b45"/>
<rect x="973" y="365" width="1" height="46" fill="#5ea55c"/>
<rect x="972" y="385" width="3" height="5" fill="#5ea55c"/>
<rect x="978" y="371" width="1" height="31" fill="#5ea55c"/>
<rect x="977" y="389" width="3" height="9" fill="#5ea55c"/>
<rect x="983" y="394" width="1" height="47" fill="#5ea55c"/>
<rect x="982" y="397" width="3" height="41" fill="#5ea55c"/>
<rect x="988" y="436" width="1" height="30" fill="#5ea55c"/>
<rect x="987" y="437" width="3" height="15" fill="#5ea55c"/>
<rect x="993" y="422" width="1" height="3" fill="#d74b45"/>
<rect x="992" y="425" width="1" height="28" fill="#d74b45"/>
<rect x="994" y="425" width="1" height="28" fill="#d74b45"/>
<rect x="993" y="425" width="1" height="1" fill="#d74b45"/>
<rect x="993" y="452" width="1" height="1" fill="#d74b45"/>
<rect x="998" y="417" width="1" height="24" fill="#5ea55c"/>
<rect x="997" y="425" width="3" height="5" fill="#5ea55c"/>
<rect x="1003" y="421" width="1" height="8" fill="#d74b45"/>
<rect x="1002" y="429" width="3" height="3" fill="#d74b45"/>
<rect x="1008" y="423" width="1" height="10" fill="#5ea55c"/>
<rect x="1007" y="431" width="3" height="2" fill="#5ea55c"/>
<rect x="1013" y="426" width="1" height="5" fill="#d74b45"/>
<rect x="1012" y="431" width="3" height="3" fill="#d74b45"/>
<rect x="1018" y="428" width="1" height="8" fill="#5ea55c"/>
<rect x="1017" y="431" width="3" height="2" fill="#5ea55c"/>
<rect x="1023" y="428" width="1" height="17" fill="#5ea55c"/>
<rect x="1022" y="434" width="3" height="10" fill="#5ea55c"/>
<rect x="1028" y="426" width="1" height="10" fill="#d74b45"/>
<rect x="1027" y="436" width="1" height="7" fill="#d74b45"/>
<rect x="1029" y="436" width="1" height="7" fill="#d74b45"/>
<rect x="1028" y="436" width="1" height="1" fill="#d74b45"/>
<rect x="1028" y="442" width="1" height="1" fill="#d74b45"/>
<rect x="1033" y="430" width="1" height="13" fill="#5ea55c"/>
<rect x="1032" y="436" width="3" height="6" fill="#5ea55c"/>
<rect x="1038" y="438" width="1" height="8" fill="#5ea55c"/>
<rect x="1037" y="441" width="3" height="4" fill="#5ea55c"/>
<rect x="1043" y="440" width="1" height="2" fill="#d74b45"/>
<rect x="1043" y="444" width="1" height="2" fill="#d74b45"/>
<rect x="1042" y="442" width="3" height="2" fill="#d74b45"/>
<rect x="1048" y="439" width="1" height="17" fill="#5ea55c"/>
<rect x="1047" y="442" width="3" height="14" fill="#5ea55c"/>
<rect x="1053" y="454" width="1" height="14" fill="#5ea55c"/>
<rect x="1052" y="457" width="3" height="2" fill="#5ea55c"/>
<rect x="1058" y="451" width="1" height="3" fill="#d74b45"/>
<rect x="1058" y="459" width="1" height="11" fill="#d74b45"/>
<rect x="1057" y="454" width="1" height="5" fill="#d74b45"/>
<rect x="1059" y="454" width="1" height="5" fill="#d74b45"/>
<rect x="1058" y="454" width="1" height="1" fill="#d74b45"/>
<rect x="1058" y="458" width="1" height="1" fill="#d74b45"/>
<rect x="1063" y="433" width="1" height="14" fill="#d74b45"/>
<rect x="1063" y="454" width="1" height="4" fill="#d74b45"/>
<rect x="1062" y="447" width="1" height="7" fill="#d74b45"/>
<rect x="1064" y="447" width="1" height="7" fill="#d74b45"/>
<rect x="1063" y="447" width="1" height="1" fill="#d74b45"/>
<rect x="1063" y="453" width="1" height="1" fill="#d74b45"/>
<rect x="1068" y="437" width="1" height="23" fill="#5ea55c"/>
<rect x="1067" y="447" width="3" height="11" fill="#5ea55c"/>
<rect x="1073" y="456" width="1" height="20" fill="#5ea55c"/>
<rect x="1072" y="457" width="3" height="13" fill="#5ea55c"/>
<rect x="1078" y="467" width="1" height="20" fill="#5ea55c"/>
<rect x="1077" y="469" width="3" height="11" fill="#5ea55c"/>
<rect x="1083" y="416" width="1" height="14" fill="#d74b45"/>
<rect x="1083" y="480" width="1" height="2" fill="#d74b45"/>
<rect x="1082" y="430" width="1" height="50" fill="#d74b45"/>
<rect x="1084" y="430" width="1" height="50" fill="#d74b45"/>
<rect x="1083" y="430" width="1" height="1" fill="#d74b45"/>
<rect x="1083" y="479" width="1" height="1" fill="#d74b45"/>
<rect x="1088" y="421" width="1" height="73" fill="#5ea55c"/>
<rect x="1087" y="431" width="3" height="56" fill="#5ea55c"/>
<rect x="1093" y="465" width="1" height="17" fill="#d74b45"/>
<rect x="1093" y="486" width="1" height="34" fill="#d74b45"/>
<rect x="1092" y="482" width="1" height="4" fill="#d74b45"/>
<rect x="1094" y="482" width="1" height="4" fill="#d74b45"/>
<rect x="1093" y="482" width="1" height="1" fill="#d74b45"/>
<rect x="1093" y="485" width="1" height="1" fill="#d74b45"/>
<rect x="1098" y="427" width="1" height="1" fill="#d74b45"/>
<rect x="1098" y="483" width="1" height="8" fill="#d74b45"/>
<rect x="1097" y="428" width="1" height="55" fill="#d74b45"/>
<rect x="1099" y="428" width="1" height="55" fill="#d74b45"/>
<rect x="1098" y="428" width="1" height="1" fill="#d74b45"/>
<rect x="1098" y="482" width="1" height="1" fill="#d74b45"/>
<rect x="1103" y="395" width="1" height="2" fill="#d74b45"/>
<rect x="1102" y="397" width="1" height="32" fill="#d74b45"/>
<rect x="1104" y="397" width="1" height="32" fill="#d74b45"/>
<rect x="1103" y="397" width="1" height="1" fill="#d74b45"/>
<rect x="1103" y="428" width="1" height="1" fill="#d74b45"/>
<rect x="1108" y="378" width="1" height="4" fill="#d74b45"/>
<rect x="1108" y="398" width="1" height="1" fill="#d74b45"/>
<rect x="1107" y="382" width="1" height="16" fill="#d74b45"/>
<rect x="1109" y="382" width="1" height="16" fill="#d74b45"/>
<rect x="1108" y="382" width="1" height="1" fill="#d74b45"/>
<rect x="1108" y="397" width="1" height="1" fill="#d74b45"/>
<rect x="1113" y="372" width="1" height="29" fill="#5ea55c"/>
<rect x="1112" y="382" width="3" height="17" fill="#5ea55c"/>
<rect x="1118" y="392" width="1" height="12" fill="#5ea55c"/>
<rect x="1117" y="398" width="3" height="6" fill="#5ea55c"/>
<rect x="1123" y="396" width="1" height="3" fill="#d74b45"/>
<rect x="1122" y="399" width="1" height="5" fill="#d74b45"/>
<rect x="1124" y="399" width="1" height="5" fill="#d74b45"/>
<rect x="1123" y="399" width="1" height="1" fill="#d74b45"/>
<rect x="1123" y="403" width="1" height="1" fill="#d74b45"/>
<rect x="1128" y="397" width="1" height="6" fill="#5ea55c"/>
<rect x="1127" y="400" width="3" height="3" fill="#5ea55c"/>
</g>
<polyline points="93.5,195.9 98.5,196.3 103.5,196.6 108.5,197.0 113.5,197.5 118.5,197.9 123.5,198.4 128.5,198.9 133.5,199.5 138.5,200.0 143.5,200.6 148.5,201.0 153.5,201.5 158.5,201.9 163.5,202.4 168.5,202.9 173.5,203.4 178.5,203.9 183.5,204.4 188.5,204.9 193.5,205.4 198.5,206.0 203.5,206.6 208.5,207.3 213.5,207.9 218.5,208.5 223.5,209.2 228.5,209.9 233.5,210.6 238.5,211.3 243.5,212.0 248.5,212.7 253.5,213.3 258.5,214.0 263.5,215.0 268.5,216.2 273.5,217.3 278.5,218.5 283.5,219.7 288.5,220.9 293.5,222.1 298.5,223.2 303.5,224.3 308.5,225.3 313.5,226.4 318.5,227.4 323.5,228.3 328.5,229.2 333.5,230.1 338.5,231.0 343.5,231.8 348.5,232.6 353.5,233.3 358.5,234.1 363.5,234.8 368.5,235.8 373.5,237.0 378.5,238.3 383.5,239.5 388.5,240.8 393.5,241.9 398.5,242.5 403.5,243.2 408.5,243.8 413.5,244.4 418.5,245.1 423.5,245.9 428.5,246.7 433.5,247.5 438.5,248.3 443.5,249.1 448.5,249.8 453.5,250.0 458.5,250.3 463.5,250.6 468.5,250.9 473.5,251.2 478.5,251.6 483.5,252.1 488.5,252.5 493.5,252.9 498.5,253.3 503.5,253.7 508.5,254.0 513.5,254.4 518.5,255.2 523.5,255.9 528.5,256.7 533.5,257.5 538.5,258.3 543.5,259.3 548.5,260.3 553.5,261.3 558.5,262.3 563.5,263.3 568.5,264.3 573.5,265.1 578.5,265.7 583.5,266.4 588.5,267.1 593.5,267.8 598.5,268.4 603.5,269.1 608.5,270.0 613.5,270.9 618.5,271.8 623.5,272.7 628.5,273.6 633.5,274.5 638.5,275.4 643.5,276.2 648.5,277.1 653.5,278.0 658.5,278.9 663.5,279.7 668.5,280.6 673.5,281.4 678.5,282.2 683.5,283.1 688.5,283.9 693.5,284.9 698.5,286.0 703.5,287.0 708.5,288.0 713.5,289.1 718.5,290.3 723.5,291.8 728.5,293.2 733.5,294.7 738.5,296.1 743.5,297.3 748.5,298.2 753.5,299.0 758.5,299.9 763.5,300.7 768.5,301.8 773.5,303.5 778.5,305.3 783.5,307.0 788.5,308.7 793.5,310.5 798.5,311.9 803.5,313.4 808.5,314.8 813.5,316.2 818.5,317.7 823.5,319.1 828.5,320.1 833.5,321.0 838.5,321.9 843.5,322.7 848.5,323.6 853.5,324.5 858.5,325.6 863.5,326.6 868.5,327.7 873.5,328.8 878.5,329.8 883.5,330.9 888.5,331.7 893.5,332.5 898.5,333.4 903.5,334.2 908.5,335.0 913.5,335.8 918.5,336.7 923.5,337.5 928.5,338.3 933.5,339.2 938.5,340.0 943.5,340.9 948.5,341.8 953.5,342.6 958.5,343.5 963.5,344.4 968.5,345.5 973.5,346.7 978.5,347.8 983.5,349.0 988.5,350.2 993.5,351.4 998.5,352.6 1003.5,353.9 1008.5,355.1 1013.5,356.4 1018.5,357.8 1023.5,359.2 1028.5,360.6 1033.5,362.0 1038.5,363.4 1043.5,364.7 1048.5,365.9 1053.5,367.0 1058.5,368.2 1063.5,369.4 1068.5,370.6 1073.5,371.9 1078.5,373.2 1083.5,374.6 1088.5,375.9 1093.5,377.1 1098.5,378.0 1103.5,378.8 1108.5,379.7 1113.5,380.6 1118.5,381.4 1123.5,382.3 1128.5,383.0" fill="none" stroke="#ff8000" stroke-width="1" shape-rendering="crispEdges"/>
<polyline points="93.5,240.8 98.5,240.8 103.5,240.8 108.5,240.8 113.5,240.8 118.5,240.2 123.5,239.1 128.5,237.9 133.5,236.8 138.5,235.5 143.5,234.3 148.5,232.9 153.5,231.2 158.5,229.4 163.5,227.7 168.5,226.1 173.5,224.4 178.5,222.8 183.5,221.6 188.5,220.6 193.5,219.6 198.5,219.0 203.5,218.3 208.5,217.6 213.5,217.0 218.5,216.4 223.5,215.9 228.5,215.4 233.5,215.3 238.5,215.1 243.5,214.9 248.5,214.7 253.5,214.6 258.5,214.5 263.5,214.7 268.5,215.1 273.5,215.7 278.5,216.7 283.5,217.8 288.5,218.8 293.5,220.0 298.5,221.6 303.5,223.2 308.5,224.8 313.5,226.2 318.5,227.1 323.5,228.0 328.5,228.9 333.5,229.7 338.5,230.4 343.5,231.3 348.5,232.4 353.5,233.4 358.5,234.2 363.5,234.8 368.5,235.3 373.5,235.8 378.5,236.4 383.5,236.9 388.5,237.5 393.5,237.9 398.5,238.2 403.5,238.4 408.5,238.6 413.5,238.8 418.5,239.1 423.5,239.5 428.5,240.4 433.5,241.2 438.5,242.0 443.5,242.9 448.5,244.0 453.5,245.2 458.5,246.4 463.5,247.6 468.5,248.8 473.5,250.0 478.5,251.1 483.5,251.9 488.5,252.7 493.5,254.4 498.5,256.1 503.5,257.6 508.5,259.0 513.5,260.4 518.5,261.8 523.5,263.6 528.5,265.9 533.5,268.3 538.5,270.6 543.5,272.9 548.5,275.1 553.5,277.2 558.5,279.3 563.5,281.5 568.5,283.6 573.5,285.7 578.5,287.8 583.5,289.8 588.5,291.8 593.5,293.8 598.5,295.9 603.5,298.0 608.5,299.8 613.5,301.5 618.5,303.3 623.5,305.1 628.5,307.2 633.5,309.8 638.5,313.0 643.5,316.3 648.5,319.4 653.5,322.7 658.5,325.8 663.5,329.3 668.5,332.9 673.5,337.1 678.5,340.8 683.5,344.1 688.5,347.1 693.5,350.2 698.5,353.0 703.5,355.9 708.5,358.7 713.5,361.3 718.5,364.1 723.5,366.9 728.5,369.8 733.5,372.7 738.5,375.6 743.5,378.2 748.5,380.5 753.5,383.0 758.5,385.2 763.5,387.6 768.5,390.2 773.5,392.4 778.5,394.6 783.5,396.3 788.5,398.2 793.5,399.8 798.5,401.3 803.5,402.7 808.5,404.1 813.5,405.4 818.5,406.8 823.5,408.1 828.5,409.5 833.5,411.1 838.5,412.7 843.5,414.2 848.5,415.8 853.5,417.4 858.5,418.7 863.5,420.2 868.5,421.4 873.5,422.6 878.5,423.6 883.5,424.5 888.5,425.7 893.5,426.8 898.5,428.0 903.5,429.0 908.5,430.4 913.5,432.1 918.5,433.6 923.5,434.8 928.5,436.0 933.5,436.9 938.5,438.0 943.5,439.3 948.5,440.7 953.5,442.1 958.5,442.9 963.5,443.6 968.5,444.2 973.5,445.0 978.5,445.7 983.5,446.7 988.5,447.8 993.5,448.7 998.5,449.6 1003.5,451.1 1008.5,452.9 1013.5,454.1 1018.5,454.8 1023.5,455.3 1028.5,455.6 1033.5,456.0 1038.5,456.2 1043.5,456.3 1048.5,456.7 1053.5,457.1 1058.5,457.6 1063.5,457.9 1068.5,458.4 1073.5,459.0 1078.5,459.6 1083.5,459.7 1088.5,460.3 1093.5,460.9 1098.5,460.9 1103.5,460.7 1108.5,460.5 1113.5,460.4 1118.5,460.3 1123.5,460.1 1128.5,459.5" fill="none" stroke="#ff00ff" stroke-width="1" shape-rendering="crispEdges"/>
<polyline points="93.5,225.9 98.5,226.6 103.5,227.4 108.5,228.2 113.5,228.8 118.5,229.5 123.5,229.8 128.5,229.8 133.5,228.9 138.5,227.4 143.5,225.8 148.5,224.1 153.5,222.4 158.5,220.1 163.5,217.9 168.5,215.6 173.5,213.1 178.5,210.6 183.5,208.6 188.5,206.7 193.5,205.3 198.5,204.2 203.5,203.0 208.5,201.7 213.5,200.5 218.5,199.5 223.5,198.5 228.5,197.5 233.5,196.7 238.5,196.4 243.5,196.2 248.5,195.9 253.5,195.9 258.5,195.9 263.5,196.6 268.5,197.6 273.5,198.6 278.5,199.7 283.5,201.6 288.5,203.8 293.5,206.1 298.5,208.6 303.5,211.1 308.5,213.8 313.5,216.4 318.5,219.1 323.5,221.9 328.5,224.7 333.5,227.5 338.5,230.3 343.5,233.0 348.5,235.7 353.5,238.5 358.5,240.6 363.5,242.7 368.5,244.8 373.5,246.9 378.5,249.0 383.5,250.7 388.5,252.4 393.5,254.1 398.5,255.7 403.5,257.7 408.5,259.0 413.5,259.7 418.5,260.4 423.5,261.5 428.5,262.8 433.5,264.5 438.5,266.9 443.5,269.3 448.5,271.7 453.5,273.8 458.5,276.2 463.5,278.7 468.5,281.6 473.5,285.4 478.5,288.6 483.5,291.7 488.5,294.4 493.5,297.1 498.5,299.5 503.5,300.9 508.5,301.8 513.5,303.6 518.5,306.3 523.5,309.3 528.5,312.5 533.5,315.6 538.5,319.0 543.5,322.6 548.5,326.0 553.5,329.6 558.5,332.4 563.5,335.3 568.5,338.2 573.5,340.5 578.5,342.8 583.5,344.3 588.5,346.1 593.5,347.6 598.5,349.2 603.5,350.5 608.5,351.8 613.5,352.9 618.5,354.5 623.5,356.0 628.5,358.1 633.5,360.4 638.5,363.2 643.5,365.8 648.5,368.2 653.5,370.7 658.5,373.2 663.5,376.5 668.5,379.6 673.5,382.4 678.5,385.0 683.5,387.2 688.5,390.1 693.5,392.8 698.5,395.6 703.5,397.9 708.5,400.8 713.5,404.1 718.5,407.4 723.5,410.5 728.5,413.6 733.5,416.6 738.5,419.7 743.5,422.1 748.5,423.8 753.5,426.4 758.5,428.7 763.5,431.2 768.5,434.0 773.5,437.2 778.5,440.0 783.5,442.7 788.5,445.5 793.5,448.2 798.5,450.5 803.5,453.9 808.5,457.5 813.5,460.2 818.5,461.7 823.5,462.8 828.5,464.0 833.5,465.6 838.5,467.0 843.5,468.3 848.5,469.7 853.5,471.4 858.5,472.4 863.5,473.3 868.5,474.1 873.5,474.8 878.5,475.2 883.5,475.5 888.5,475.5 893.5,475.7 898.5,475.8 903.5,476.1 908.5,476.6 913.5,477.3 918.5,477.6 923.5,477.8 928.5,477.4 933.5,476.4 938.5,475.3 943.5,474.3 948.5,473.8 953.5,472.9 958.5,471.3 963.5,469.2 968.5,467.1 973.5,465.2 978.5,463.5 983.5,462.7 988.5,462.2 993.5,461.2 998.5,460.4 1003.5,459.6 1008.5,458.9 1013.5,458.3 1018.5,457.4 1023.5,456.6 1028.5,455.6 1033.5,454.4 1038.5,453.2 1043.5,452.7 1048.5,453.1 1053.5,453.1 1058.5,453.0 1063.5,452.6 1068.5,452.0 1073.5,451.5 1078.5,451.2 1083.5,450.0 1088.5,449.6 1093.5,449.3 1098.5,448.5 1103.5,447.2 1108.5,445.8 1113.5,444.5 1118.5,443.6 1123.5,442.6 1128.5,441.4" fill="none" stroke="#0000a0" stroke-width="1" shape-rendering="crispEdges"/>
<polyline points="93.5,227.8 98.5,226.4 103.5,224.7 108.5,222.8 113.5,222.1 118.5,221.4 123.5,220.5 128.5,219.5 133.5,218.5 138.5,216.8 143.5,215.0 148.5,213.2 153.5,211.3 158.5,210.0 163.5,208.3 168.5,205.8 173.5,202.3 178.5,199.2 183.5,196.4 188.5,194.6 193.5,193.5 198.5,193.4 203.5,193.3 208.5,193.2 213.5,193.1 218.5,193.0 223.5,192.9 228.5,193.2 233.5,193.8 238.5,194.4 243.5,194.9 248.5,195.3 253.5,195.9 258.5,196.4 263.5,197.3 268.5,198.2 273.5,200.3 278.5,203.1 283.5,206.3 288.5,209.5 293.5,213.3 298.5,216.6 303.5,218.6 308.5,220.7 313.5,223.3 318.5,225.9 323.5,228.2 328.5,230.3 333.5,232.4 338.5,235.0 343.5,237.8 348.5,240.4 353.5,243.1 358.5,245.7 363.5,247.4 368.5,249.0 373.5,251.0 378.5,253.1 383.5,255.6 388.5,258.1 393.5,260.8 398.5,263.4 403.5,266.6 408.5,269.0 413.5,271.0 418.5,273.7 423.5,278.1 428.5,281.8 433.5,285.3 438.5,288.3 443.5,291.4 448.5,294.1 453.5,296.4 458.5,298.8 463.5,301.2 468.5,303.6 473.5,305.5 478.5,307.8 483.5,310.2 488.5,312.7 493.5,315.1 498.5,317.7 503.5,319.1 508.5,319.3 513.5,320.8 518.5,323.5 523.5,325.9 528.5,328.4 533.5,329.9 538.5,331.9 543.5,333.7 548.5,335.5 553.5,337.0 558.5,338.7 563.5,340.2 568.5,341.9 573.5,343.6 578.5,345.3 583.5,347.0 588.5,348.5 593.5,349.9 598.5,351.4 603.5,352.9 608.5,353.9 613.5,355.7 618.5,357.5 623.5,359.2 628.5,361.3 633.5,364.0 638.5,368.0 643.5,371.8 648.5,375.5 653.5,378.8 658.5,382.7 663.5,387.6 668.5,392.1 673.5,396.1 678.5,399.8 683.5,402.8 688.5,405.9 693.5,409.1 698.5,412.0 703.5,415.4 708.5,418.6 713.5,421.5 718.5,424.7 723.5,428.3 728.5,431.8 733.5,435.2 738.5,438.6 743.5,441.4 748.5,443.2 753.5,446.9 758.5,451.1 763.5,454.3 768.5,456.8 773.5,458.9 778.5,460.7 783.5,462.8 788.5,464.5 793.5,465.9 798.5,467.1 803.5,468.4 808.5,469.4 813.5,470.7 818.5,471.8 823.5,472.6 828.5,473.7 833.5,475.3 838.5,477.0 843.5,478.6 848.5,480.1 853.5,482.0 858.5,483.5 863.5,484.7 868.5,485.4 873.5,486.1 878.5,485.9 883.5,485.0 888.5,483.4 893.5,481.8 898.5,480.5 903.5,479.3 908.5,478.1 913.5,476.6 918.5,475.1 923.5,473.6 928.5,472.2 933.5,471.0 938.5,470.2 943.5,469.6 948.5,469.3 953.5,468.8 958.5,467.2 963.5,465.7 968.5,463.7 973.5,461.8 978.5,459.7 983.5,458.2 988.5,457.0 993.5,456.0 998.5,455.9 1003.5,455.3 1008.5,454.8 1013.5,453.9 1018.5,452.7 1023.5,451.6 1028.5,450.5 1033.5,449.2 1038.5,447.9 1043.5,446.8 1048.5,446.3 1053.5,445.9 1058.5,445.7 1063.5,445.2 1068.5,445.1 1073.5,445.3 1078.5,445.5 1083.5,444.1 1088.5,443.7 1093.5,443.2 1098.5,441.7 1103.5,439.3 1108.5,437.4 1113.5,436.1 1118.5,435.1 1123.5,434.0 1128.5,433.2" fill="none" stroke="#000" stroke-width="1" shape-rendering="crispEdges"/>
<g shape-rendering="crispEdges" fill="#1a80f5">
<rect x="91" y="400" width="3" height="1"/>
<rect x="97" y="400" width="3" height="1"/>
<rect x="103" y="400" width="3" height="1"/>
<rect x="109" y="400" width="3" height="1"/>
<rect x="115" y="400" width="3" height="1"/>
<rect x="121" y="400" width="3" height="1"/>
<rect x="127" y="400" width="3" height="1"/>
<rect x="133" y="400" width="3" height="1"/>
<rect x="139" y="400" width="3" height="1"/>
<rect x="145" y="400" width="3" height="1"/>
<rect x="151" y="400" width="3" height="1"/>
<rect x="157" y="400" width="3" height="1"/>
<rect x="163" y="400" width="3" height="1"/>
<rect x="169" y="400" width="3" height="1"/>
<rect x="175" y="400" width="3" height="1"/>
<rect x="181" y="400" width="3" height="1"/>
<rect x="187" y="400" width="3" height="1"/>
<rect x="193" y="400" width="3" height="1"/>
<rect x="199" y="400" width="3" height="1"/>
<rect x="205" y="400" width="3" height="1"/>
<rect x="211" y="400" width="3" height="1"/>
<rect x="217" y="400" width="3" height="1"/>
<rect x="223" y="400" width="3" height="1"/>
<rect x="229" y="400" width="3" height="1"/>
<rect x="235" y="400" width="3" height="1"/>
<rect x="241" y="400" width="3" height="1"/>
<rect x="247" y="400" width="3" height="1"/>
<rect x="253" y="400" width="3" height="1"/>
<rect x="259" y="400" width="3" height="1"/>
<rect x="265" y="400" width="3" height="1"/>
<rect x="271" y="400" width="3" height="1"/>
<rect x="277" y="400" width="3" height="1"/>
<rect x="283" y="400" width="3" height="1"/>
<rect x="289" y="400" width="3" height="1"/>
<rect x="295" y="400" width="3" height="1"/>
<rect x="301" y="400" width="3" height="1"/>
<rect x="307" y="400" width="3" height="1"/>
<rect x="313" y="400" width="3" height="1"/>
<rect x="319" y="400" width="3" height="1"/>
<rect x="325" y="400" width="3" height="1"/>
<rect x="331" y="400" width="3" height="1"/>
<rect x="337" y="400" width="3" height="1"/>
<rect x="343" y="400" width="3" height="1"/>
<rect x="349" y="400" width="3" height="1"/>
<rect x="355" y="400" width="3" height="1"/>
<rect x="361" y="400" width="3" height="1"/>
<rect x="367" y="400" width="3" height="1"/>
<rect x="373" y="400" width="3" height="1"/>
<rect x="379" y="400" width="3" height="1"/>
<rect x="385" y="400" width="3" height="1"/>
<rect x="391" y="400" width="3" height="1"/>
<rect x="397" y="400" width="3" height="1"/>
<rect x="403" y="400" width="3" height="1"/>
<rect x="409" y="400" width="3" height="1"/>
<rect x="415" y="400" width="3" height="1"/>
<rect x="421" y="400" width="3" height="1"/>
<rect x="427" y="400" width="3" height="1"/>
<rect x="433" y="400" width="3" height="1"/>
<rect x="439" y="400" width="3" height="1"/>
<rect x="445" y="400" width="3" height="1"/>
<rect x="451" y="400" width="3" height="1"/>
<rect x="457" y="400" width="3" height="1"/>
<rect x="463" y="400" width="3" height="1"/>
<rect x="469" y="400" width="3" height="1"/>
<rect x="475" y="400" width="3" height="1"/>
<rect x="481" y="400" width="3" height="1"/>
<rect x="487" y="400" width="3" height="1"/>
<rect x="493" y="400" width="3" height="1"/>
<rect x="499" y="400" width="3" height="1"/>
<rect x="505" y="400" width="3" height="1"/>
<rect x="511" y="400" width="3" height="1"/>
<rect x="517" y="400" width="3" height="1"/>
<rect x="523" y="400" width="3" height="1"/>
<rect x="529" y="400" width="3" height="1"/>
<rect x="535" y="400" width="3" height="1"/>
<rect x="541" y="400" width="3" height="1"/>
<rect x="547" y="400" width="3" height="1"/>
<rect x="553" y="400" width="3" height="1"/>
<rect x="559" y="400" width="3" height="1"/>
<rect x="565" y="400" width="3" height="1"/>
<rect x="571" y="400" width="3" height="1"/>
<rect x="577" y="400" width="3" height="1"/>
<rect x="583" y="400" width="3" height="1"/>
<rect x="589" y="400" width="3" height="1"/>
<rect x="595" y="400" width="3" height="1"/>
<rect x="601" y="400" width="3" height="1"/>
<rect x="607" y="400" width="3" height="1"/>
<rect x="613" y="400" width="3" height="1"/>
<rect x="619" y="400" width="3" height="1"/>
<rect x="625" y="400" width="3" height="1"/>
<rect x="631" y="400" width="3" height="1"/>
<rect x="637" y="400" width="3" height="1"/>
<rect x="643" y="400" width="3" height="1"/>
<rect x="649" y="400" width="3" height="1"/>
<rect x="655" y="400" width="3" height="1"/>
<rect x="661" y="400" width="3" height="1"/>
<rect x="667" y="400" width="3" height="1"/>
<rect x="673" y="400" width="3" height="1"/>
<rect x="679" y="400" width="3" height="1"/>
<rect x="685" y="400" width="3" height="1"/>
<rect x="691" y="400" width="3" height="1"/>
<rect x="697" y="400" width="3" height="1"/>
<rect x="703" y="400" width="3" height="1"/>
<rect x="709" y="400" width="3" height="1"/>
<rect x="715" y="400" width="3" height="1"/>
<rect x="721" y="400" width="3" height="1"/>
<rect x="727" y="400" width="3" height="1"/>
<rect x="733" y="400" width="3" height="1"/>
<rect x="739" y="400" width="3" height="1"/>
<rect x="745" y="400" width="3" height="1"/>
<rect x="751" y="400" width="3" height="1"/>
<rect x="757" y="400" width="3" height="1"/>
<rect x="763" y="400" width="3" height="1"/>
<rect x="769" y="400" width="3" height="1"/>
<rect x="775" y="400" width="3" height="1"/>
<rect x="781" y="400" width="3" height="1"/>
<rect x="787" y="400" width="3" height="1"/>
<rect x="793" y="400" width="3" height="1"/>
<rect x="799" y="400" width="3" height="1"/>
<rect x="805" y="400" width="3" height="1"/>
<rect x="811" y="400" width="3" height="1"/>
<rect x="817" y="400" width="3" height="1"/>
<rect x="823" y="400" width="3" height="1"/>
<rect x="829" y="400" width="3" height="1"/>
<rect x="835" y="400" width="3" height="1"/>
<rect x="841" y="400" width="3" height="1"/>
<rect x="847" y="400" width="3" height="1"/>
<rect x="853" y="400" width="3" height="1"/>
<rect x="859" y="400" width="3" height="1"/>
<rect x="865" y="400" width="3" height="1"/>
<rect x="871" y="400" width="3" height="1"/>
<rect x="877" y="400" width="3" height="1"/>
<rect x="883" y="400" width="3" height="1"/>
<rect x="889" y="400" width="3" height="1"/>
<rect x="895" y="400" width="3" height="1"/>
<rect x="901" y="400" width="3" height="1"/>
<rect x="907" y="400" width="3" height="1"/>
<rect x="913" y="400" width="3" height="1"/>
<rect x="919" y="400" width="3" height="1"/>
<rect x="925" y="400" width="3" height="1"/>
<rect x="931" y="400" width="3" height="1"/>
<rect x="937" y="400" width="3" height="1"/>
<rect x="943" y="400" width="3" height="1"/>
<rect x="949" y="400" width="3" height="1"/>
<rect x="955" y="400" width="3" height="1"/>
<rect x="961" y="400" width="3" height="1"/>
<rect x="967" y="400" width="3" height="1"/>
<rect x="973" y="400" width="3" height="1"/>
<rect x="979" y="400" width="3" height="1"/>
<rect x="985" y="400" width="3" height="1"/>
<rect x="991" y="400" width="3" height="1"/>
<rect x="997" y="400" width="3" height="1"/>
<rect x="1003" y="400" width="3" height="1"/>
<rect x="1009" y="400" width="3" height="1"/>
<rect x="1015" y="400" width="3" height="1"/>
<rect x="1021" y="400" width="3" height="1"/>
<rect x="1027" y="400" width="3" height="1"/>
<rect x="1033" y="400" width="3" height="1"/>
<rect x="1039" y="400" width="3" height="1"/>
<rect x="1045" y="400" width="3" height="1"/>
<rect x="1051" y="400" width="3" height="1"/>
<rect x="1057" y="400" width="3" height="1"/>
<rect x="1063" y="400" width="3" height="1"/>
<rect x="1069" y="400" width="3" height="1"/>
<rect x="1075" y="400" width="3" height="1"/>
<rect x="1081" y="400" width="3" height="1"/>
<rect x="1087" y="400" width="3" height="1"/>
<rect x="1093" y="400" width="3" height="1"/>
<rect x="1099" y="400" width="3" height="1"/>
<rect x="1105" y="400" width="3" height="1"/>
<rect x="1111" y="400" width="3" height="1"/>
<rect x="1117" y="400" width="3" height="1"/>
<rect x="1123" y="400" width="3" height="1"/>
<rect x="1129" y="400" width="3" height="1"/>
<rect x="1135" y="400" width="3" height="1"/>
<rect x="1141" y="400" width="3" height="1"/>
<rect x="1147" y="400" width="3" height="1"/>
<rect x="1153" y="400" width="3" height="1"/>
</g>
<polyline points="93.5,657.5 98.5,657.0 103.5,657.0 108.5,657.7 113.5,659.9 118.5,663.2 123.5,662.1 128.5,661.5 133.5,656.7 138.5,648.9 143.5,648.1 148.5,647.8 153.5,646.2 158.5,646.8 163.5,645.2 168.5,639.8 173.5,630.0 178.5,641.5 183.5,646.8 188.5,652.0 193.5,650.9 198.5,654.7 203.5,654.0 208.5,655.7 213.5,656.2 218.5,656.8 223.5,658.4 228.5,657.7 233.5,660.1 238.5,659.4 243.5,657.7 248.5,657.0 253.5,655.1 258.5,664.3 263.5,661.9 268.5,660.9 273.5,668.1 278.5,669.1 283.5,676.0 288.5,674.3 293.5,675.9 298.5,674.2 303.5,675.9 308.5,672.6 313.5,673.5 318.5,670.0 323.5,671.2 328.5,671.8 333.5,671.9 338.5,674.1 343.5,675.4 348.5,672.8 353.5,673.3 358.5,673.0 363.5,663.1 368.5,665.3 373.5,667.1 378.5,669.0 383.5,668.4 388.5,660.3 393.5,661.6 398.5,659.7 403.5,664.4 408.5,656.6 413.5,650.4 418.5,653.5 423.5,657.1 428.5,659.0 433.5,661.0 438.5,661.4 443.5,660.9 448.5,661.5 453.5,655.6 458.5,658.3 463.5,659.2 468.5,659.4 473.5,656.1 478.5,659.4 483.5,661.9 488.5,662.8 493.5,660.6 498.5,661.6 503.5,647.7 508.5,644.9 513.5,655.1 518.5,663.9 523.5,666.6 528.5,667.8 533.5,668.0 538.5,670.3 543.5,670.8 548.5,669.1 553.5,668.1 558.5,667.9 563.5,667.3 568.5,666.4 573.5,667.5 578.5,668.2 583.5,668.2 588.5,669.7 593.5,669.1 598.5,669.1 603.5,668.6 608.5,662.6 613.5,663.0 618.5,665.6 623.5,666.5 628.5,672.5 633.5,675.9 638.5,680.1 643.5,680.3 648.5,676.3 653.5,676.4 658.5,675.8 663.5,678.6 668.5,676.8 673.5,675.0 678.5,673.0 683.5,668.1 688.5,668.6 693.5,668.8 698.5,666.5 703.5,666.2 708.5,665.8 713.5,664.0 718.5,667.5 723.5,667.9 728.5,671.0 733.5,672.4 738.5,673.3 743.5,661.1 748.5,650.9 753.5,656.3 758.5,657.0 763.5,659.6 768.5,663.2 773.5,664.3 778.5,663.3 783.5,665.6 788.5,666.0 793.5,663.5 798.5,658.2 803.5,657.9 808.5,655.5 813.5,656.4 818.5,654.2 823.5,652.7 828.5,656.7 833.5,662.6 838.5,664.4 843.5,663.5 848.5,663.3 853.5,665.8 858.5,655.4 863.5,652.3 868.5,650.4 873.5,651.1 878.5,648.5 883.5,646.4 888.5,645.6 893.5,646.4 898.5,646.7 903.5,647.6 908.5,647.1 913.5,649.5 918.5,647.5 923.5,646.3 928.5,646.3 933.5,644.2 938.5,650.7 943.5,654.4 948.5,657.2 953.5,652.2 958.5,641.4 963.5,640.7 968.5,639.0 973.5,640.2 978.5,642.6 983.5,653.1 988.5,656.2 993.5,650.6 998.5,651.5 1003.5,651.5 1008.5,652.2 1013.5,652.0 1018.5,652.2 1023.5,655.1 1028.5,653.3 1033.5,654.6 1038.5,655.4 1043.5,654.8 1048.5,658.4 1053.5,659.2 1058.5,657.9 1063.5,655.8 1068.5,658.6 1073.5,661.8 1078.5,664.3 1083.5,650.6 1088.5,662.9 1093.5,661.9 1098.5,650.6 1103.5,645.4 1108.5,643.1 1113.5,646.4 1118.5,647.5 1123.5,646.8 1128.5,647.4" fill="none" stroke="#ff00ff" stroke-width="1" shape-rendering="crispEdges"/>
<polyline points="93.5,660.4 98.5,659.4 103.5,659.4 108.5,660.9 113.5,665.4 118.5,671.9 123.5,669.1 128.5,667.6 133.5,656.2 138.5,640.9 143.5,639.4 148.5,638.9 153.5,636.1 158.5,637.6 163.5,634.5 168.5,625.6 173.5,613.3 178.5,636.0 183.5,645.3 188.5,654.0 193.5,652.1 198.5,658.4 203.5,657.0 208.5,660.0 213.5,660.9 218.5,662.0 223.5,664.8 228.5,663.3 233.5,667.8 238.5,666.1 243.5,662.1 248.5,660.4 253.5,655.9 258.5,673.6 263.5,668.3 268.5,666.1 273.5,678.3 278.5,679.8 283.5,689.2 288.5,685.6 293.5,687.9 298.5,684.1 303.5,686.6 308.5,679.5 313.5,681.1 318.5,673.6 323.5,675.8 328.5,676.9 333.5,677.2 338.5,681.2 343.5,683.5 348.5,677.5 353.5,678.4 358.5,677.7 363.5,656.2 368.5,661.3 373.5,665.2 378.5,669.3 383.5,668.1 388.5,652.0 393.5,655.1 398.5,651.5 403.5,662.1 408.5,648.1 413.5,638.4 418.5,644.9 423.5,652.3 428.5,656.0 433.5,659.9 438.5,660.6 443.5,659.7 448.5,660.9 453.5,649.5 458.5,655.2 463.5,657.2 468.5,657.6 473.5,650.9 478.5,658.3 483.5,663.4 488.5,665.3 493.5,660.6 498.5,662.7 503.5,637.0 508.5,632.9 513.5,653.0 518.5,667.5 523.5,671.5 528.5,673.3 533.5,673.7 538.5,677.2 543.5,677.9 548.5,674.7 553.5,672.6 558.5,672.1 563.5,670.7 568.5,668.7 573.5,670.9 578.5,672.5 583.5,672.5 588.5,675.6 593.5,674.2 598.5,674.2 603.5,672.7 608.5,657.5 613.5,658.6 618.5,665.3 623.5,667.7 628.5,680.4 633.5,686.3 638.5,692.6 643.5,692.7 648.5,683.5 653.5,683.8 658.5,682.4 663.5,687.4 668.5,683.2 673.5,678.9 678.5,674.1 683.5,663.5 688.5,664.8 693.5,665.2 698.5,660.0 703.5,659.4 708.5,658.7 713.5,654.4 718.5,664.2 723.5,665.3 728.5,672.9 733.5,676.0 738.5,678.1 743.5,651.8 748.5,635.5 753.5,647.4 758.5,648.7 763.5,654.3 768.5,661.6 773.5,663.7 778.5,661.8 783.5,666.3 788.5,667.0 793.5,662.0 798.5,651.7 803.5,651.3 808.5,646.7 813.5,649.0 818.5,644.8 823.5,642.1 828.5,651.7 833.5,664.2 838.5,667.7 843.5,665.9 848.5,665.3 853.5,670.5 858.5,649.6 863.5,644.2 868.5,641.0 873.5,642.6 878.5,638.2 883.5,634.8 888.5,633.4 893.5,635.5 898.5,636.2 903.5,638.5 908.5,637.5 913.5,644.0 918.5,639.7 923.5,637.1 928.5,637.1 933.5,633.0 938.5,649.7 943.5,658.1 948.5,663.6 953.5,652.3 958.5,632.9 963.5,631.8 968.5,629.2 973.5,631.8 978.5,637.0 983.5,657.1 988.5,662.4 993.5,651.7 998.5,653.3 1003.5,653.3 1008.5,654.7 1013.5,654.2 1018.5,654.7 1023.5,660.5 1028.5,656.3 1033.5,659.1 1038.5,660.7 1043.5,659.3 1048.5,666.6 1053.5,668.2 1058.5,664.9 1063.5,659.4 1068.5,665.5 1073.5,671.8 1078.5,676.4 1083.5,646.8 1088.5,668.2 1093.5,666.4 1098.5,647.3 1103.5,639.6 1108.5,636.3 1113.5,642.2 1118.5,644.0 1123.5,642.9 1128.5,644.2" fill="none" stroke="#0000a0" stroke-width="1" shape-rendering="crispEdges"/>
<polyline points="93.5,662.7 98.5,660.3 103.5,660.3 108.5,664.1 113.5,674.4 118.5,686.5 123.5,678.7 128.5,674.6 133.5,647.6 138.5,623.6 143.5,621.6 148.5,621.1 153.5,617.2 158.5,621.4 163.5,616.8 168.5,606.5 173.5,598.0 178.5,636.0 183.5,650.0 188.5,662.5 193.5,659.0 198.5,668.5 203.5,665.6 208.5,670.4 213.5,672.1 218.5,674.0 223.5,679.1 228.5,674.7 233.5,683.0 238.5,678.0 243.5,666.5 248.5,661.6 253.5,649.6 258.5,686.1 263.5,674.2 268.5,669.5 273.5,689.4 278.5,691.3 283.5,702.1 288.5,695.0 293.5,697.9 298.5,690.0 303.5,693.9 308.5,678.9 313.5,682.3 318.5,666.7 323.5,672.0 328.5,674.8 333.5,675.5 338.5,685.2 343.5,690.1 348.5,675.0 353.5,677.5 358.5,675.5 363.5,633.8 368.5,647.6 373.5,657.6 378.5,667.1 383.5,664.5 388.5,635.8 393.5,643.4 398.5,637.4 403.5,661.4 408.5,637.8 413.5,624.9 418.5,637.7 423.5,651.4 428.5,658.2 433.5,665.2 438.5,666.4 443.5,664.4 448.5,666.8 453.5,641.6 458.5,654.6 463.5,659.0 468.5,659.9 473.5,644.3 478.5,661.6 483.5,671.6 488.5,675.1 493.5,663.3 498.5,668.0 503.5,622.6 508.5,617.8 513.5,654.4 518.5,675.2 523.5,680.5 528.5,682.9 533.5,683.4 538.5,688.5 543.5,689.5 548.5,681.8 553.5,676.7 558.5,675.6 563.5,671.7 568.5,666.2 573.5,672.7 578.5,677.0 583.5,677.0 588.5,685.2 593.5,680.5 598.5,680.5 603.5,674.4 608.5,634.8 613.5,638.8 618.5,660.8 623.5,667.3 628.5,691.7 633.5,699.1 638.5,705.3 643.5,705.4 648.5,686.6 653.5,687.0 658.5,683.9 663.5,693.4 668.5,684.1 673.5,674.8 678.5,664.6 683.5,645.2 688.5,649.0 693.5,650.5 698.5,640.6 703.5,639.4 708.5,638.0 713.5,630.0 718.5,660.9 723.5,663.7 728.5,680.6 733.5,686.1 738.5,689.7 743.5,638.9 748.5,619.3 753.5,641.1 758.5,643.4 763.5,653.7 768.5,666.2 773.5,669.8 778.5,665.7 783.5,674.0 788.5,675.3 793.5,663.3 798.5,642.6 803.5,641.8 808.5,633.5 813.5,639.6 818.5,631.6 823.5,626.9 828.5,651.4 833.5,674.9 838.5,680.3 843.5,676.0 848.5,674.5 853.5,683.6 858.5,641.1 863.5,633.0 868.5,628.3 873.5,632.1 878.5,625.1 883.5,620.1 888.5,618.2 893.5,623.7 898.5,625.7 903.5,632.4 908.5,630.1 913.5,648.4 918.5,636.8 923.5,630.8 928.5,630.8 933.5,621.5 938.5,661.0 943.5,674.8 948.5,682.7 953.5,656.7 958.5,624.9 963.5,623.4 968.5,619.8 973.5,625.2 978.5,635.9 983.5,669.6 988.5,676.7 993.5,655.5 998.5,658.2 1003.5,658.2 1008.5,660.9 1013.5,659.7 1018.5,660.9 1023.5,673.2 1028.5,661.5 1033.5,667.6 1038.5,671.3 1043.5,666.9 1048.5,682.2 1053.5,684.9 1058.5,674.6 1063.5,659.0 1068.5,673.3 1073.5,684.9 1078.5,691.7 1083.5,636.4 1088.5,671.4 1093.5,668.5 1098.5,640.1 1103.5,630.1 1108.5,626.0 1113.5,636.9 1118.5,640.3 1123.5,638.4 1128.5,641.1" fill="none" stroke="#000" stroke-width="1" shape-rendering="crispEdges"/>
<g shape-rendering="crispEdges" fill="#000"><rect x="170" y="77" width="8" height="1"/><rect x="173" y="75" width="1" height="5"/></g>
<g shape-rendering="crispEdges" fill="#000"><rect x="741" y="540" width="7" height="1"/><rect x="743" y="538" width="1" height="5"/></g>
<g shape-rendering="crispEdges" fill="#000"><rect x="971" y="366" width="7" height="1"/><rect x="973" y="364" width="1" height="5"/></g>
<text x="178.3" y="74" fill="#d94646" style="font-family:'Liberation Sans', sans-serif;font-size:13px;font-weight:bold;" textLength="37.5" lengthAdjust="spacingAndGlyphs">101.86</text>
<text x="977.5" y="363" fill="#d94646" style="font-family:'Liberation Sans', sans-serif;font-size:13px;font-weight:bold;" textLength="31" lengthAdjust="spacingAndGlyphs">92.60</text>
<text x="747.5" y="552" fill="#5a9e5a" style="font-family:'Liberation Sans', sans-serif;font-size:13px;font-weight:bold;" textLength="31" lengthAdjust="spacingAndGlyphs">87.00</text>
<text x="92" y="13.8" fill="#000" style="font-family:'Liberation Sans', sans-serif;font-size:12px;font-weight:500;">美原油连续</text><text x="153" y="13.5" fill="#ff8000" style="font-family:'Liberation Sans', sans-serif;font-size:11px;" textLength="6" lengthAdjust="spacingAndGlyphs">&lt;</text><text x="160.5" y="14" fill="#ff8000" style="font-family:'Liberation Sans', sans-serif;font-size:12.5px;">60</text><text x="175" y="13.8" fill="#ff8000" style="font-family:'Liberation Sans', sans-serif;font-size:12px;">分</text><text x="188" y="13.5" fill="#ff8000" style="font-family:'Liberation Sans', sans-serif;font-size:11px;" textLength="6" lengthAdjust="spacingAndGlyphs">&gt;</text>
<g shape-rendering="crispEdges"><rect x="203" y="1" width="12" height="13" fill="#000080"/><rect x="204" y="2" width="10" height="11" fill="#fff"/><rect x="215" y="2" width="1" height="13" fill="#a0a0a0"/><rect x="204" y="14" width="12" height="1" fill="#a0a0a0"/></g>
<polyline points="204.5,8.5 207.5,4.5 210.5,7.5 213.5,5.5" fill="none" stroke="#ff0000" stroke-width="1" shape-rendering="crispEdges"/>
<polyline points="204.5,12.5 207.5,7.5 210.5,10.5 213.5,8.5" fill="none" stroke="#0000ff" stroke-width="1" shape-rendering="crispEdges"/>
<text x="218" y="14" fill="#000" style="font-family:'Liberation Sans', sans-serif;font-size:12.5px;" textLength="113.5" lengthAdjust="spacingAndGlyphs">MA1(50,60,100,200)</text><text x="336" y="14" fill="#000" style="font-family:'Liberation Sans', sans-serif;font-size:12.5px;" textLength="68" lengthAdjust="spacingAndGlyphs">MA50:90.48</text>
<text x="412.3" y="14" fill="#0000a0" style="font-family:'Liberation Sans', sans-serif;font-size:12.5px;" textLength="67" lengthAdjust="spacingAndGlyphs">MA60:90.21</text>
<text x="487.5" y="14" fill="#ff00ff" style="font-family:'Liberation Sans', sans-serif;font-size:12.5px;" textLength="75.5" lengthAdjust="spacingAndGlyphs">MA100:89.63</text>
<text x="570.8" y="14" fill="#ff8000" style="font-family:'Liberation Sans', sans-serif;font-size:12.5px;" textLength="75" lengthAdjust="spacingAndGlyphs">MA200:92.07</text>
<g shape-rendering="crispEdges" fill="#0a6fd0"><rect x="449" y="28" width="2" height="4"/><rect x="448" y="29" width="4" height="2"/><rect x="564" y="28" width="2" height="4"/><rect x="563" y="29" width="4" height="2"/></g>
<g shape-rendering="crispEdges"><rect x="1015.5" y="0.5" width="74" height="15" fill="#fff" stroke="#3d4b5c"/></g>
<text x="1022" y="13" fill="#333" style="font-family:'Liberation Sans', sans-serif;font-size:12px;font-weight:500;">全部主题</text>
<path d="M1072,5 L1081,5 L1076.5,13 Z" fill="#3d4b5c"/>
<g shape-rendering="crispEdges">
<rect x="1093" y="1" width="14" height="14" fill="#1e78c8"/><rect x="1094" y="2" width="12" height="12" fill="#fff"/>
<rect x="1109" y="1" width="14" height="14" fill="#1e78c8"/><rect x="1110" y="2" width="12" height="12" fill="#fff"/>
<rect x="1125" y="1" width="14" height="14" fill="#1e78c8"/><rect x="1126" y="2" width="12" height="12" fill="#fff"/>
<rect x="1141" y="1" width="14" height="14" fill="#1e78c8"/><rect x="1142" y="2" width="12" height="12" fill="#fff"/>
<rect x="1099" y="3" width="2" height="3" fill="#1e78c8"/><rect x="1099" y="10" width="2" height="3" fill="#1e78c8"/><rect x="1095" y="7" width="3" height="2" fill="#1e78c8"/><rect x="1102" y="7" width="3" height="2" fill="#1e78c8"/><rect x="1099" y="7" width="2" height="2" fill="#1e78c8"/>
<rect x="1112" y="4" width="1" height="9" fill="#1e78c8"/><rect x="1111" y="5" width="3" height="1" fill="#1e78c8"/><rect x="1111" y="11" width="10" height="1" fill="#1e78c8"/><rect x="1120" y="10" width="1" height="3" fill="#1e78c8"/><rect x="1111" y="12" width="1" height="1" fill="#1e78c8"/><rect x="1115" y="4" width="1" height="6" fill="#1e78c8"/><rect x="1118" y="4" width="1" height="5" fill="#1e78c8"/><rect x="1117" y="5" width="1" height="3" fill="#1e78c8"/><rect x="1116" y="6" width="1" height="1" fill="#1e78c8"/>
<rect x="1128" y="4" width="1" height="9" fill="#1e78c8"/><rect x="1127" y="5" width="3" height="1" fill="#1e78c8"/><rect x="1127" y="11" width="10" height="1" fill="#1e78c8"/><rect x="1136" y="10" width="1" height="3" fill="#1e78c8"/><rect x="1131" y="4" width="1" height="7" fill="#1e78c8"/><rect x="1132" y="5" width="1" height="5" fill="#1e78c8"/><rect x="1133" y="6" width="1" height="3" fill="#1e78c8"/><rect x="1134" y="7" width="1" height="1" fill="#1e78c8"/>
<rect x="1143" y="3" width="4" height="1" fill="#1e78c8"/><rect x="1143" y="12" width="4" height="1" fill="#1e78c8"/><rect x="1143" y="3" width="1" height="10" fill="#1e78c8"/><rect x="1146" y="3" width="1" height="10" fill="#1e78c8"/><rect x="1147" y="7" width="3" height="2" fill="#1e78c8"/><rect x="1149" y="5" width="1" height="6" fill="#1e78c8"/><rect x="1150" y="6" width="1" height="4" fill="#1e78c8"/><rect x="1151" y="7" width="1" height="2" fill="#1e78c8"/>
</g>
<g shape-rendering="crispEdges"><rect x="1156.5" y="400.5" width="67" height="16.5" fill="#fff" stroke="#ff8000"/></g>
<rect x="1224" y="400" width="2" height="9" fill="#fff"/>
<text x="1158.5" y="413" fill="#ff8000" style="font-family:'Liberation Sans', sans-serif;font-size:13px;" textLength="31.5" lengthAdjust="spacingAndGlyphs">91.50</text>
<path d="M1216,396 L1220,392 L1224,396 Z M1216,400.5 L1220,396.5 L1224,400.5 Z" fill="#ff8000"/>
<g shape-rendering="crispEdges"><rect x="1156.5" y="492.5" width="67" height="16" fill="#fff" stroke="#e6ebf0"/></g>
<text x="1158.5" y="505" fill="#ff8000" style="font-family:'Liberation Sans', sans-serif;font-size:13px;" textLength="31.5" lengthAdjust="spacingAndGlyphs">88.53</text>
<text x="92" y="591" fill="#000" style="font-family:'Liberation Sans', sans-serif;font-size:12.5px;" textLength="67.5" lengthAdjust="spacingAndGlyphs">RSI(6,12,24)</text><text x="163.8" y="591" fill="#000" style="font-family:'Liberation Sans', sans-serif;font-size:12.5px;" textLength="60" lengthAdjust="spacingAndGlyphs">RSI1:61.29</text>
<text x="232.3" y="591" fill="#0000a0" style="font-family:'Liberation Sans', sans-serif;font-size:12.5px;" textLength="60" lengthAdjust="spacingAndGlyphs">RSI2:58.35</text>
<text x="299.9" y="591" fill="#ff00ff" style="font-family:'Liberation Sans', sans-serif;font-size:12.5px;" textLength="60" lengthAdjust="spacingAndGlyphs">RSI3:55.59</text>
<g shape-rendering="crispEdges"><rect x="27" y="580" width="4" height="1" fill="#000"/><rect x="27" y="587" width="4" height="1" fill="#000"/><rect x="25" y="582" width="1" height="4" fill="#000"/><rect x="32" y="582" width="1" height="4" fill="#000"/><rect x="26" y="581" width="1" height="1" fill="#000"/><rect x="31" y="581" width="1" height="1" fill="#000"/><rect x="26" y="586" width="1" height="1" fill="#000"/><rect x="31" y="586" width="1" height="1" fill="#000"/><rect x="27" y="583" width="4" height="2" fill="#ff0000"/><rect x="28" y="582" width="2" height="4" fill="#ff0000"/><rect x="28" y="577" width="2" height="2" fill="#ff0000"/><rect x="28" y="589" width="2" height="2" fill="#ff0000"/><rect x="22" y="583" width="2" height="2" fill="#ff0000"/><rect x="34" y="583" width="2" height="2" fill="#ff0000"/><rect x="23" y="578" width="1" height="1" fill="#ff0000"/><rect x="24" y="579" width="1" height="1" fill="#ff0000"/><rect x="34" y="578" width="1" height="1" fill="#ff0000"/><rect x="33" y="579" width="1" height="1" fill="#ff0000"/><rect x="24" y="588" width="1" height="1" fill="#ff0000"/><rect x="23" y="589" width="1" height="1" fill="#ff0000"/><rect x="33" y="588" width="1" height="1" fill="#ff0000"/><rect x="34" y="589" width="1" height="1" fill="#ff0000"/></g>
<g shape-rendering="crispEdges">
<rect x="20.5" y="705.5" width="69" height="19" fill="#fff" stroke="#d0d8e0"/>
<rect x="178" y="706" width="1" height="4" fill="#c8d0d8"/>
<rect x="638" y="706" width="1" height="4" fill="#c8d0d8"/>
<rect x="868" y="706" width="1" height="4" fill="#c8d0d8"/>
<rect x="1098" y="706" width="1" height="4" fill="#c8d0d8"/>
<rect x="403.5" y="706.5" width="164" height="15" fill="#fff" stroke="#ece6de"/>
</g>
<text x="33.8" y="720" fill="#ff8000" style="font-family:'Liberation Sans', sans-serif;font-size:13px;font-weight:bold;" textLength="14" lengthAdjust="spacingAndGlyphs">60</text><text x="48.3" y="720.8" fill="#ff8000" style="font-family:'Liberation Sans', sans-serif;font-size:12.5px;font-weight:bold;">分</text>
<path d="M65.5,720 L74,720 L69.75,712 Z" fill="#ff8000"/>
<text x="179.5" y="718" fill="#2b3a4c" style="font-family:'Liberation Sans', sans-serif;font-size:13px;font-weight:bold;" textLength="31" lengthAdjust="spacingAndGlyphs">07/30</text>
<text x="639.5" y="718" fill="#2b3a4c" style="font-family:'Liberation Sans', sans-serif;font-size:13px;font-weight:bold;" textLength="31" lengthAdjust="spacingAndGlyphs">08/05</text>
<text x="869.5" y="718" fill="#2b3a4c" style="font-family:'Liberation Sans', sans-serif;font-size:13px;font-weight:bold;" textLength="31" lengthAdjust="spacingAndGlyphs">08/09</text>
<text x="1099.5" y="718" fill="#2b3a4c" style="font-family:'Liberation Sans', sans-serif;font-size:13px;font-weight:bold;" textLength="31" lengthAdjust="spacingAndGlyphs">08/11</text>
<text x="404.5" y="718" fill="#ff8000" style="font-family:'Liberation Sans', sans-serif;font-size:12.5px;" textLength="161" lengthAdjust="spacingAndGlyphs">2022/08/02 22:00～23:00 二</text>
<g shape-rendering="crispEdges">
<rect x="20" y="725" width="39" height="15" fill="#1a74c9"/>
<rect x="59" y="726" width="1" height="14" fill="#d3dbe4"/>
<rect x="100" y="726" width="1" height="14" fill="#d3dbe4"/>
<rect x="157" y="726" width="1" height="14" fill="#d3dbe4"/>
<rect x="186" y="726" width="1" height="14" fill="#d3dbe4"/>
<rect x="225" y="726" width="1" height="14" fill="#d3dbe4"/>
<rect x="265" y="726" width="1" height="14" fill="#d3dbe4"/>
<rect x="300" y="726" width="1" height="14" fill="#d3dbe4"/>
<rect x="340" y="726" width="1" height="14" fill="#d3dbe4"/>
<rect x="374" y="726" width="1" height="14" fill="#d3dbe4"/>
<rect x="408" y="726" width="1" height="14" fill="#d3dbe4"/>
<rect x="447" y="726" width="1" height="14" fill="#d3dbe4"/>
<rect x="481" y="726" width="1" height="14" fill="#d3dbe4"/>
<rect x="510" y="726" width="1" height="14" fill="#d3dbe4"/>
<rect x="544" y="726" width="1" height="14" fill="#d3dbe4"/>
<rect x="584" y="726" width="1" height="14" fill="#d3dbe4"/>
<rect x="584.5" y="726.5" width="640" height="13" fill="#fff" stroke="#d8dee5"/>
</g>
<text x="39.5" y="738.3" fill="#fff" style="font-family:'Liberation Sans', sans-serif;font-size:12.5px;" text-anchor="middle">指标</text>
<text x="79.5" y="738.3" fill="#222" style="font-family:'Liberation Sans', sans-serif;font-size:12.5px;" text-anchor="middle">模板</text>
<text x="108" y="737.5" fill="#ff8000" style="font-family:'Liberation Mono', monospace;font-size:12px;" textLength="17.5" lengthAdjust="spacingAndGlyphs">VIP</text><text x="125.5" y="738.3" fill="#ff8000" style="font-family:'Liberation Sans', sans-serif;font-size:12.5px;">指标</text>
<text x="171.5" y="737.5" fill="#222" style="font-family:'Liberation Mono', monospace;font-size:12px;" text-anchor="middle" textLength="11.5" lengthAdjust="spacingAndGlyphs">MA</text>
<text x="205.5" y="737.5" fill="#222" style="font-family:'Liberation Mono', monospace;font-size:12px;" text-anchor="middle" textLength="23.5" lengthAdjust="spacingAndGlyphs">MACD</text>
<text x="245.0" y="737.5" fill="#222" style="font-family:'Liberation Mono', monospace;font-size:12px;" text-anchor="middle" textLength="23.5" lengthAdjust="spacingAndGlyphs">BOLL</text>
<text x="282.5" y="737.5" fill="#222" style="font-family:'Liberation Mono', monospace;font-size:12px;" text-anchor="middle" textLength="17.5" lengthAdjust="spacingAndGlyphs">VOL</text>
<text x="320.0" y="737.5" fill="#222" style="font-family:'Liberation Mono', monospace;font-size:12px;" text-anchor="middle" textLength="23.5" lengthAdjust="spacingAndGlyphs">BIAS</text>
<text x="357.0" y="737.5" fill="#222" style="font-family:'Liberation Mono', monospace;font-size:12px;" text-anchor="middle" textLength="17.5" lengthAdjust="spacingAndGlyphs">CCI</text>
<text x="391.0" y="737.5" fill="#222" style="font-family:'Liberation Mono', monospace;font-size:12px;" text-anchor="middle" textLength="17.5" lengthAdjust="spacingAndGlyphs">KDJ</text>
<text x="427.5" y="737.5" fill="#222" style="font-family:'Liberation Mono', monospace;font-size:12px;" text-anchor="middle" textLength="17.5" lengthAdjust="spacingAndGlyphs">LW&amp;</text>
<text x="464.0" y="737.5" fill="#222" style="font-family:'Liberation Mono', monospace;font-size:12px;" text-anchor="middle" textLength="17.5" lengthAdjust="spacingAndGlyphs">RSI</text>
<text x="495.5" y="737.5" fill="#222" style="font-family:'Liberation Mono', monospace;font-size:12px;" text-anchor="middle" textLength="11.5" lengthAdjust="spacingAndGlyphs">CR</text>
<text x="527.0" y="737.5" fill="#222" style="font-family:'Liberation Mono', monospace;font-size:12px;" text-anchor="middle" textLength="17.5" lengthAdjust="spacingAndGlyphs">PSY</text>
<text x="564.0" y="738.3" fill="#222" style="font-family:'Liberation Sans', sans-serif;font-size:12.5px;" text-anchor="middle">设置</text>
</svg></body></html>
